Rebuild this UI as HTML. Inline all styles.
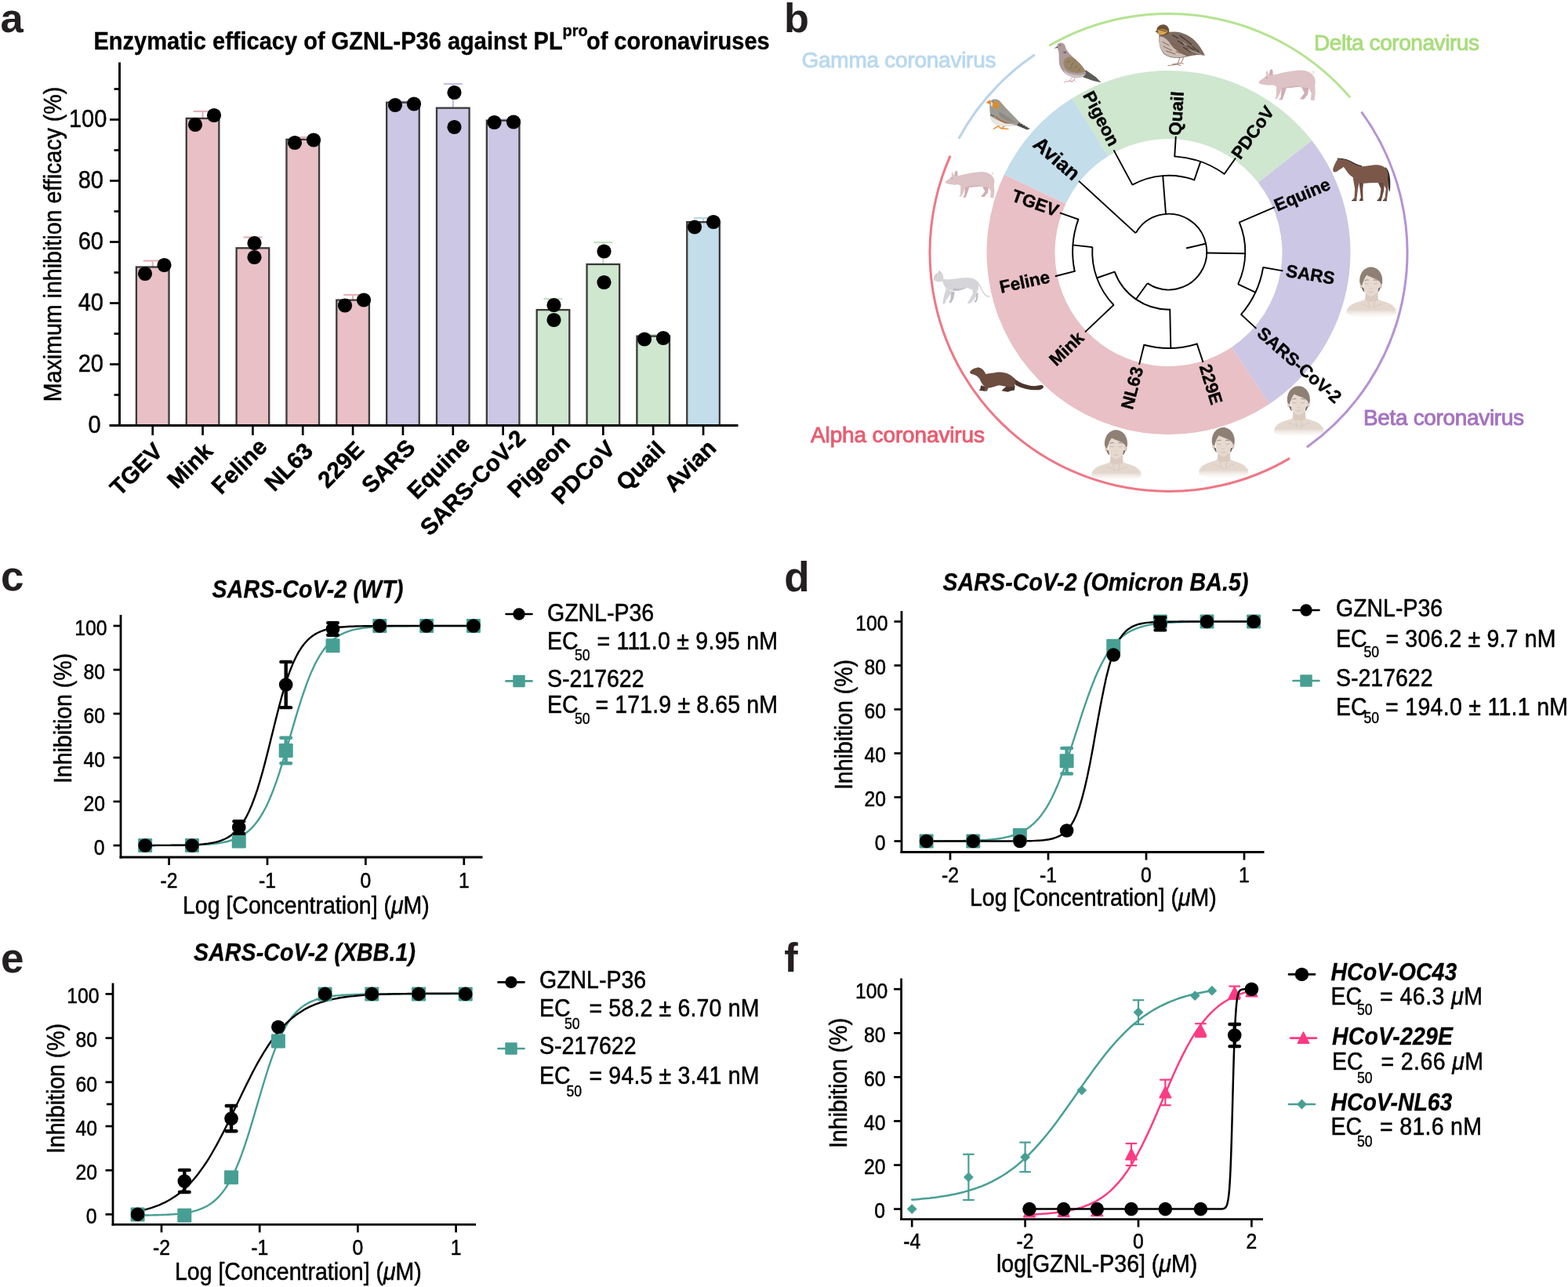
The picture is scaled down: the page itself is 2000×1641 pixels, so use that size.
<!DOCTYPE html>
<html lang="en"><head><meta charset="utf-8"><title>GZNL-P36 efficacy figure</title>
<style>
html,body{margin:0;padding:0;background:#fff;}
body{width:2000px;height:1641px;overflow:hidden;}
svg{display:block;font-family:"Liberation Sans", sans-serif;}
text{font-family:"Liberation Sans", sans-serif;}
</style></head><body>
<svg xmlns="http://www.w3.org/2000/svg" width="2000" height="1641" viewBox="0 0 2000 1641">
<rect x="0" y="0" width="2000" height="1641" fill="#ffffff"/>
<g id="panel-a">
<text x="0.50" y="41.00" font-size="52.5" font-weight="bold" fill="#231F20" >a</text>
<text transform="translate(119.5 62.5) scale(0.953 1)" x="0" y="0" font-size="30.45" font-weight="bold" stroke="#000" stroke-width="0.35">Enzymatic efficacy of GZNL-P36 against PL<tspan dy="-17" font-size="21">pro</tspan><tspan dy="17" dx="-2">of coronaviruses</tspan></text>
<line x1="194.70" y1="340.48" x2="194.70" y2="332.50" stroke="#E3B3BA" stroke-width="2.2" stroke-linecap="butt" />
<line x1="182.70" y1="332.50" x2="206.70" y2="332.50" stroke="#E3B3BA" stroke-width="2.2" stroke-linecap="butt" />
<rect x="173.90" y="340.48" width="41.60" height="202.02" fill="#E8C0C5" stroke="#3A3A3A" stroke-width="2.3" />
<circle cx="185.00" cy="349.00" r="9.1" fill="#000" />
<circle cx="209.50" cy="338.00" r="9.1" fill="#000" />
<line x1="258.55" y1="150.94" x2="258.55" y2="142.00" stroke="#E3B3BA" stroke-width="2.2" stroke-linecap="butt" />
<line x1="246.55" y1="142.00" x2="270.55" y2="142.00" stroke="#E3B3BA" stroke-width="2.2" stroke-linecap="butt" />
<rect x="237.75" y="150.94" width="41.60" height="391.56" fill="#E8C0C5" stroke="#3A3A3A" stroke-width="2.3" />
<circle cx="249.00" cy="159.00" r="9.1" fill="#000" />
<circle cx="273.00" cy="147.00" r="9.1" fill="#000" />
<line x1="322.40" y1="316.30" x2="322.40" y2="302.50" stroke="#E3B3BA" stroke-width="2.2" stroke-linecap="butt" />
<line x1="310.40" y1="302.50" x2="334.40" y2="302.50" stroke="#E3B3BA" stroke-width="2.2" stroke-linecap="butt" />
<rect x="301.60" y="316.30" width="41.60" height="226.20" fill="#E8C0C5" stroke="#3A3A3A" stroke-width="2.3" />
<circle cx="324.50" cy="310.00" r="9.1" fill="#000" />
<circle cx="324.50" cy="328.00" r="9.1" fill="#000" />
<line x1="386.25" y1="177.85" x2="386.25" y2="175.00" stroke="#E3B3BA" stroke-width="2.2" stroke-linecap="butt" />
<line x1="374.25" y1="175.00" x2="398.25" y2="175.00" stroke="#E3B3BA" stroke-width="2.2" stroke-linecap="butt" />
<rect x="365.45" y="177.85" width="41.60" height="364.65" fill="#E8C0C5" stroke="#3A3A3A" stroke-width="2.3" />
<circle cx="376.00" cy="182.00" r="9.1" fill="#000" />
<circle cx="400.00" cy="178.50" r="9.1" fill="#000" />
<line x1="450.10" y1="382.60" x2="450.10" y2="376.00" stroke="#E3B3BA" stroke-width="2.2" stroke-linecap="butt" />
<line x1="438.10" y1="376.00" x2="462.10" y2="376.00" stroke="#E3B3BA" stroke-width="2.2" stroke-linecap="butt" />
<rect x="429.30" y="382.60" width="41.60" height="159.90" fill="#E8C0C5" stroke="#3A3A3A" stroke-width="2.3" />
<circle cx="440.00" cy="389.50" r="9.1" fill="#000" />
<circle cx="464.00" cy="382.50" r="9.1" fill="#000" />
<line x1="513.95" y1="130.66" x2="513.95" y2="129.50" stroke="#C3BEE3" stroke-width="2.2" stroke-linecap="butt" />
<line x1="501.95" y1="129.50" x2="525.95" y2="129.50" stroke="#C3BEE3" stroke-width="2.2" stroke-linecap="butt" />
<rect x="493.15" y="130.66" width="41.60" height="411.84" fill="#CBC7E4" stroke="#3A3A3A" stroke-width="2.3" />
<circle cx="504.00" cy="134.00" r="9.1" fill="#000" />
<circle cx="528.00" cy="132.50" r="9.1" fill="#000" />
<line x1="577.80" y1="137.68" x2="577.80" y2="107.00" stroke="#C3BEE3" stroke-width="2.2" stroke-linecap="butt" />
<line x1="565.80" y1="107.00" x2="589.80" y2="107.00" stroke="#C3BEE3" stroke-width="2.2" stroke-linecap="butt" />
<rect x="557.00" y="137.68" width="41.60" height="404.82" fill="#CBC7E4" stroke="#3A3A3A" stroke-width="2.3" />
<circle cx="579.50" cy="118.00" r="9.1" fill="#000" />
<circle cx="579.50" cy="162.00" r="9.1" fill="#000" />
<line x1="641.65" y1="153.67" x2="641.65" y2="152.50" stroke="#C3BEE3" stroke-width="2.2" stroke-linecap="butt" />
<line x1="629.65" y1="152.50" x2="653.65" y2="152.50" stroke="#C3BEE3" stroke-width="2.2" stroke-linecap="butt" />
<rect x="620.85" y="153.67" width="41.60" height="388.83" fill="#CBC7E4" stroke="#3A3A3A" stroke-width="2.3" />
<circle cx="630.50" cy="156.00" r="9.1" fill="#000" />
<circle cx="655.00" cy="155.50" r="9.1" fill="#000" />
<line x1="705.50" y1="395.08" x2="705.50" y2="381.00" stroke="#C0E3C2" stroke-width="2.2" stroke-linecap="butt" />
<line x1="693.50" y1="381.00" x2="717.50" y2="381.00" stroke="#C0E3C2" stroke-width="2.2" stroke-linecap="butt" />
<rect x="684.70" y="395.08" width="41.60" height="147.42" fill="#CFE6CF" stroke="#3A3A3A" stroke-width="2.3" />
<circle cx="706.50" cy="389.00" r="9.1" fill="#000" />
<circle cx="706.50" cy="408.00" r="9.1" fill="#000" />
<line x1="769.35" y1="336.97" x2="769.35" y2="309.00" stroke="#C0E3C2" stroke-width="2.2" stroke-linecap="butt" />
<line x1="757.35" y1="309.00" x2="781.35" y2="309.00" stroke="#C0E3C2" stroke-width="2.2" stroke-linecap="butt" />
<rect x="748.55" y="336.97" width="41.60" height="205.53" fill="#CFE6CF" stroke="#3A3A3A" stroke-width="2.3" />
<circle cx="770.50" cy="320.50" r="9.1" fill="#000" />
<circle cx="770.50" cy="360.00" r="9.1" fill="#000" />
<line x1="833.20" y1="428.62" x2="833.20" y2="427.00" stroke="#C0E3C2" stroke-width="2.2" stroke-linecap="butt" />
<line x1="821.20" y1="427.00" x2="845.20" y2="427.00" stroke="#C0E3C2" stroke-width="2.2" stroke-linecap="butt" />
<rect x="812.40" y="428.62" width="41.60" height="113.88" fill="#CFE6CF" stroke="#3A3A3A" stroke-width="2.3" />
<circle cx="822.00" cy="432.50" r="9.1" fill="#000" />
<circle cx="846.00" cy="431.00" r="9.1" fill="#000" />
<line x1="897.05" y1="283.15" x2="897.05" y2="278.00" stroke="#B8D8EA" stroke-width="2.2" stroke-linecap="butt" />
<line x1="885.05" y1="278.00" x2="909.05" y2="278.00" stroke="#B8D8EA" stroke-width="2.2" stroke-linecap="butt" />
<rect x="876.25" y="283.15" width="41.60" height="259.35" fill="#C4DDEB" stroke="#3A3A3A" stroke-width="2.3" />
<circle cx="886.00" cy="289.50" r="9.1" fill="#000" />
<circle cx="910.00" cy="283.00" r="9.1" fill="#000" />
<line x1="152.50" y1="79.50" x2="152.50" y2="543.95" stroke="#000" stroke-width="2.9" stroke-linecap="butt" />
<line x1="139.50" y1="542.50" x2="941.50" y2="542.50" stroke="#000" stroke-width="2.9" stroke-linecap="butt" />
<line x1="140.00" y1="542.50" x2="152.50" y2="542.50" stroke="#000" stroke-width="2.7" stroke-linecap="butt" />
<text x="0.00" y="0.00" font-size="32.2" text-anchor="end" transform="translate(128.60 551.80) scale(0.9000 1)"  stroke="#000" stroke-width="0.5" stroke-linejoin="round">0</text>
<line x1="140.00" y1="464.50" x2="152.50" y2="464.50" stroke="#000" stroke-width="2.7" stroke-linecap="butt" />
<text x="0.00" y="0.00" font-size="32.2" text-anchor="end" transform="translate(132.00 473.80) scale(0.9000 1)"  stroke="#000" stroke-width="0.5" stroke-linejoin="round">20</text>
<line x1="140.00" y1="386.50" x2="152.50" y2="386.50" stroke="#000" stroke-width="2.7" stroke-linecap="butt" />
<text x="0.00" y="0.00" font-size="32.2" text-anchor="end" transform="translate(132.00 395.80) scale(0.9000 1)"  stroke="#000" stroke-width="0.5" stroke-linejoin="round">40</text>
<line x1="140.00" y1="308.50" x2="152.50" y2="308.50" stroke="#000" stroke-width="2.7" stroke-linecap="butt" />
<text x="0.00" y="0.00" font-size="32.2" text-anchor="end" transform="translate(132.00 317.80) scale(0.9000 1)"  stroke="#000" stroke-width="0.5" stroke-linejoin="round">60</text>
<line x1="140.00" y1="230.50" x2="152.50" y2="230.50" stroke="#000" stroke-width="2.7" stroke-linecap="butt" />
<text x="0.00" y="0.00" font-size="32.2" text-anchor="end" transform="translate(132.00 239.80) scale(0.9000 1)"  stroke="#000" stroke-width="0.5" stroke-linejoin="round">80</text>
<line x1="140.00" y1="152.50" x2="152.50" y2="152.50" stroke="#000" stroke-width="2.7" stroke-linecap="butt" />
<text x="0.00" y="0.00" font-size="32.2" text-anchor="end" transform="translate(136.30 161.80) scale(0.9000 1)"  stroke="#000" stroke-width="0.5" stroke-linejoin="round">100</text>
<line x1="145.50" y1="503.50" x2="152.50" y2="503.50" stroke="#000" stroke-width="2.7" stroke-linecap="butt" />
<line x1="145.50" y1="425.50" x2="152.50" y2="425.50" stroke="#000" stroke-width="2.7" stroke-linecap="butt" />
<line x1="145.50" y1="347.50" x2="152.50" y2="347.50" stroke="#000" stroke-width="2.7" stroke-linecap="butt" />
<line x1="145.50" y1="269.50" x2="152.50" y2="269.50" stroke="#000" stroke-width="2.7" stroke-linecap="butt" />
<line x1="145.50" y1="191.50" x2="152.50" y2="191.50" stroke="#000" stroke-width="2.7" stroke-linecap="butt" />
<line x1="145.50" y1="113.50" x2="152.50" y2="113.50" stroke="#000" stroke-width="2.7" stroke-linecap="butt" />
<line x1="194.70" y1="542.50" x2="194.70" y2="555.00" stroke="#000" stroke-width="2.7" stroke-linecap="butt" />
<text x="0.00" y="0.00" font-size="29.5" text-anchor="end" font-weight="bold" transform="translate(209.20 577.00) rotate(-45)"  stroke="#000" stroke-width="0.5" stroke-linejoin="round">TGEV</text>
<line x1="258.55" y1="542.50" x2="258.55" y2="555.00" stroke="#000" stroke-width="2.7" stroke-linecap="butt" />
<text x="0.00" y="0.00" font-size="29.5" text-anchor="end" font-weight="bold" transform="translate(273.05 577.00) rotate(-45)"  stroke="#000" stroke-width="0.5" stroke-linejoin="round">Mink</text>
<line x1="322.40" y1="542.50" x2="322.40" y2="555.00" stroke="#000" stroke-width="2.7" stroke-linecap="butt" />
<text x="0.00" y="0.00" font-size="29.5" text-anchor="end" font-weight="bold" transform="translate(342.40 571.50) rotate(-45)"  stroke="#000" stroke-width="0.5" stroke-linejoin="round">Feline</text>
<line x1="386.25" y1="542.50" x2="386.25" y2="555.00" stroke="#000" stroke-width="2.7" stroke-linecap="butt" />
<text x="0.00" y="0.00" font-size="29.5" text-anchor="end" font-weight="bold" transform="translate(400.75 577.00) rotate(-45)"  stroke="#000" stroke-width="0.5" stroke-linejoin="round">NL63</text>
<line x1="450.10" y1="542.50" x2="450.10" y2="555.00" stroke="#000" stroke-width="2.7" stroke-linecap="butt" />
<text x="0.00" y="0.00" font-size="29.5" text-anchor="end" font-weight="bold" transform="translate(466.10 575.00) rotate(-45)"  stroke="#000" stroke-width="0.5" stroke-linejoin="round">229E</text>
<line x1="513.95" y1="542.50" x2="513.95" y2="555.00" stroke="#000" stroke-width="2.7" stroke-linecap="butt" />
<text x="0.00" y="0.00" font-size="29.5" text-anchor="end" font-weight="bold" transform="translate(531.45 572.50) rotate(-45)"  stroke="#000" stroke-width="0.5" stroke-linejoin="round">SARS</text>
<line x1="577.80" y1="542.50" x2="577.80" y2="555.00" stroke="#000" stroke-width="2.7" stroke-linecap="butt" />
<text x="0.00" y="0.00" font-size="29.5" text-anchor="end" font-weight="bold" transform="translate(601.30 568.50) rotate(-45)"  stroke="#000" stroke-width="0.5" stroke-linejoin="round">Equine</text>
<line x1="641.65" y1="542.50" x2="641.65" y2="555.00" stroke="#000" stroke-width="2.7" stroke-linecap="butt" />
<text x="0.00" y="0.00" font-size="29.5" text-anchor="end" font-weight="bold" transform="translate(672.15 560.50) rotate(-45)"  stroke="#000" stroke-width="0.5" stroke-linejoin="round">SARS-CoV-2</text>
<line x1="705.50" y1="542.50" x2="705.50" y2="555.00" stroke="#000" stroke-width="2.7" stroke-linecap="butt" />
<text x="0.00" y="0.00" font-size="29.5" text-anchor="end" font-weight="bold" transform="translate(729.00 567.00) rotate(-45)"  stroke="#000" stroke-width="0.5" stroke-linejoin="round">Pigeon</text>
<line x1="769.35" y1="542.50" x2="769.35" y2="555.00" stroke="#000" stroke-width="2.7" stroke-linecap="butt" />
<text x="0.00" y="0.00" font-size="29.5" text-anchor="end" font-weight="bold" transform="translate(786.35 574.00) rotate(-45)"  stroke="#000" stroke-width="0.5" stroke-linejoin="round">PDCoV</text>
<line x1="833.20" y1="542.50" x2="833.20" y2="555.00" stroke="#000" stroke-width="2.7" stroke-linecap="butt" />
<text x="0.00" y="0.00" font-size="29.5" text-anchor="end" font-weight="bold" transform="translate(850.20 575.00) rotate(-45)"  stroke="#000" stroke-width="0.5" stroke-linejoin="round">Quail</text>
<line x1="897.05" y1="542.50" x2="897.05" y2="555.00" stroke="#000" stroke-width="2.7" stroke-linecap="butt" />
<text x="0.00" y="0.00" font-size="29.5" text-anchor="end" font-weight="bold" transform="translate(915.30 573.00) rotate(-45)"  stroke="#000" stroke-width="0.5" stroke-linejoin="round">Avian</text>
<text x="0.00" y="0.00" font-size="31.0" text-anchor="middle" transform="translate(78.00 311.50) rotate(-90) scale(0.9226 1)"  stroke="#000" stroke-width="0.5" stroke-linejoin="round">Maximum inhibition efficacy (%)</text>
</g>
<g id="panel-b">
<text x="1000.00" y="40.50" font-size="52.3" font-weight="bold" fill="#231F20" >b</text>
<path d="M1367.56,125.25 A232,232 0 0 1 1673.32,179.17 L1604.76,232.73 A145,145 0 0 0 1413.66,199.03 Z" fill="#CFE6CF" stroke="none" stroke-width="0" />
<path d="M1673.32,179.17 A232,232 0 0 1 1619.22,515.01 L1570.95,442.63 A145,145 0 0 0 1604.76,232.73 Z" fill="#CBC7E4" stroke="none" stroke-width="0" />
<path d="M1619.22,515.01 A232,232 0 0 1 1280.93,222.49 L1359.52,259.80 A145,145 0 0 0 1570.95,442.63 Z" fill="#E8C0C5" stroke="none" stroke-width="0" />
<path d="M1280.93,222.49 A232,232 0 0 1 1367.56,125.25 L1413.66,199.03 A145,145 0 0 0 1359.52,259.80 Z" fill="#C4DDEB" stroke="none" stroke-width="0" />
<path d="M1338.25,58.30 A304.5,304.5 0 0 1 1722.04,124.24" fill="none" stroke="#B5E391" stroke-width="3" stroke-linecap="butt"/>
<path d="M1736.53,142.59 A304.5,304.5 0 0 1 1666.89,570.21" fill="none" stroke="#B493D3" stroke-width="3" stroke-linecap="butt"/>
<path d="M1645.05,584.37 A304.5,304.5 0 0 1 1212.11,198.63" fill="none" stroke="#EE7785" stroke-width="3" stroke-linecap="butt"/>
<path d="M1222.90,176.71 A304.5,304.5 0 0 1 1319.79,69.86" fill="none" stroke="#B9D3EA" stroke-width="3" stroke-linecap="butt"/>
<path d="M1448.97,296.75 A48.4,48.4 0 1 1 1463.60,361.13" fill="none" stroke="#000" stroke-width="1.9" stroke-linecap="butt"/>
<line x1="1514.00" y1="316.25" x2="1537.70" y2="310.70" stroke="#000" stroke-width="1.9" stroke-linecap="square" />
<line x1="1376.75" y1="231.50" x2="1448.00" y2="296.75" stroke="#000" stroke-width="1.9" stroke-linecap="square" />
<line x1="1487.00" y1="272.75" x2="1483.25" y2="224.50" stroke="#000" stroke-width="1.9" stroke-linecap="square" />
<path d="M1444.37,235.59 A97.3,97.3 0 0 1 1523.28,229.38" fill="none" stroke="#000" stroke-width="1.9" stroke-linecap="butt"/>
<line x1="1444.25" y1="235.25" x2="1421.00" y2="192.20" stroke="#000" stroke-width="1.9" stroke-linecap="square" />
<line x1="1523.30" y1="229.50" x2="1530.80" y2="207.50" stroke="#000" stroke-width="1.9" stroke-linecap="square" />
<path d="M1498.25,199.33 A122.0,122.0 0 0 1 1561.65,221.78" fill="none" stroke="#000" stroke-width="1.9" stroke-linecap="butt"/>
<line x1="1498.25" y1="199.25" x2="1499.75" y2="174.80" stroke="#000" stroke-width="1.9" stroke-linecap="square" />
<line x1="1561.70" y1="221.75" x2="1575.50" y2="202.25" stroke="#000" stroke-width="1.9" stroke-linecap="square" />
<line x1="1539.50" y1="322.55" x2="1587.80" y2="323.30" stroke="#000" stroke-width="1.9" stroke-linecap="square" />
<path d="M1580.75,283.47 A97.5,97.5 0 0 1 1579.24,362.15" fill="none" stroke="#000" stroke-width="1.9" stroke-linecap="butt"/>
<line x1="1581.20" y1="283.25" x2="1625.00" y2="264.50" stroke="#000" stroke-width="1.9" stroke-linecap="square" />
<line x1="1579.70" y1="362.60" x2="1600.70" y2="372.50" stroke="#000" stroke-width="1.9" stroke-linecap="square" />
<path d="M1611.16,341.03 A122.0,122.0 0 0 1 1583.01,400.98" fill="none" stroke="#000" stroke-width="1.9" stroke-linecap="butt"/>
<line x1="1611.50" y1="341.00" x2="1635.50" y2="345.20" stroke="#000" stroke-width="1.9" stroke-linecap="square" />
<line x1="1583.30" y1="401.30" x2="1601.75" y2="418.25" stroke="#000" stroke-width="1.9" stroke-linecap="square" />
<line x1="1463.00" y1="362.00" x2="1449.50" y2="380.75" stroke="#000" stroke-width="1.9" stroke-linecap="square" />
<path d="M1492.21,394.69 A73.6,73.6 0 0 1 1421.77,346.63" fill="none" stroke="#000" stroke-width="1.9" stroke-linecap="butt"/>
<line x1="1492.25" y1="394.70" x2="1493.30" y2="443.50" stroke="#000" stroke-width="1.9" stroke-linecap="square" />
<path d="M1526.70,438.53 A122.8,122.8 0 0 1 1459.22,439.77" fill="none" stroke="#000" stroke-width="1.9" stroke-linecap="butt"/>
<line x1="1459.25" y1="440.00" x2="1453.25" y2="464.00" stroke="#000" stroke-width="1.9" stroke-linecap="square" />
<line x1="1526.75" y1="438.50" x2="1534.25" y2="461.00" stroke="#000" stroke-width="1.9" stroke-linecap="square" />
<line x1="1421.45" y1="346.70" x2="1399.70" y2="354.20" stroke="#000" stroke-width="1.9" stroke-linecap="square" />
<path d="M1420.47,388.78 A97.6,97.6 0 0 1 1393.39,314.97" fill="none" stroke="#000" stroke-width="1.9" stroke-linecap="butt"/>
<line x1="1420.25" y1="389.00" x2="1384.70" y2="422.75" stroke="#000" stroke-width="1.9" stroke-linecap="square" />
<line x1="1392.50" y1="315.00" x2="1368.80" y2="312.50" stroke="#000" stroke-width="1.9" stroke-linecap="square" />
<path d="M1370.75,345.96 A122.6,122.6 0 0 1 1375.45,279.57" fill="none" stroke="#000" stroke-width="1.9" stroke-linecap="butt"/>
<line x1="1375.25" y1="279.50" x2="1352.75" y2="271.70" stroke="#000" stroke-width="1.9" stroke-linecap="square" />
<line x1="1370.75" y1="345.80" x2="1346.75" y2="352.00" stroke="#000" stroke-width="1.9" stroke-linecap="square" />
<text transform="translate(1499.87,172.80) rotate(-86.50)" x="0" y="6.5" font-size="22.5" font-weight="bold" text-anchor="start" fill="#000" stroke="#000" stroke-width="0.4">Quail</text>
<text transform="translate(1576.66,200.62) rotate(-54.50)" x="0" y="6.5" font-size="22.5" font-weight="bold" text-anchor="start" fill="#000" stroke="#000" stroke-width="0.4">PDCoV</text>
<text transform="translate(1626.84,263.72) rotate(-22.90)" x="0" y="6.5" font-size="22.5" font-weight="bold" text-anchor="start" fill="#000" stroke="#000" stroke-width="0.4">Equine</text>
<text transform="translate(1640.43,346.03) rotate(9.50)" x="0" y="6.5" font-size="22.5" font-weight="bold" text-anchor="start" fill="#000" stroke="#000" stroke-width="0.4">SARS</text>
<text transform="translate(1606.26,422.20) rotate(41.20)" x="0" y="6.5" font-size="22.5" font-weight="bold" text-anchor="start" fill="#000" stroke="#000" stroke-width="0.4">SARS-CoV-2</text>
<text transform="translate(1535.59,465.30) rotate(72.70)" x="0" y="6.5" font-size="22.5" font-weight="bold" text-anchor="start" fill="#000" stroke="#000" stroke-width="0.4">229E</text>
<text transform="translate(1452.11,468.35) rotate(284.70)" x="0" y="6.5" font-size="22.5" font-weight="bold" text-anchor="end" fill="#000" stroke="#000" stroke-width="0.4">NL63</text>
<text transform="translate(1379.65,427.60) rotate(316.20)" x="0" y="6.5" font-size="22.5" font-weight="bold" text-anchor="end" fill="#000" stroke="#000" stroke-width="0.4">Mink</text>
<text transform="translate(1338.93,353.68) rotate(347.90)" x="0" y="6.5" font-size="22.5" font-weight="bold" text-anchor="end" fill="#000" stroke="#000" stroke-width="0.4">Feline</text>
<text transform="translate(1348.98,270.35) rotate(379.70)" x="0" y="6.5" font-size="22.5" font-weight="bold" text-anchor="end" fill="#000" stroke="#000" stroke-width="0.4">TGEV</text>
<text transform="translate(1371.84,227.24) rotate(401.00)" x="0" y="5.5" font-size="25.8" font-weight="bold" text-anchor="end" fill="#000" stroke="#000" stroke-width="0.4">Avian</text>
<text transform="translate(1418.01,186.43) rotate(422.60)" x="0" y="3.2" font-size="22.5" font-weight="bold" text-anchor="end" fill="#000" stroke="#000" stroke-width="0.4">Pigeon</text>
<g id="animals">
<g transform="translate(1330,20) scale(0.11500)">
<path d="M360,630 L480,605 L590,680 L648,742 L560,722 L450,682 Z" fill="#5C5B58" stroke="none" stroke-width="0" />
<path d="M160,335 C160,290 240,285 250,340 C255,380 300,430 360,480 C420,530 470,590 480,640 C470,680 400,700 330,680 C250,660 190,600 182,520 C178,460 185,400 165,365 Z" fill="#AE9A9C" stroke="none" stroke-width="0" />
<path d="M230,600 C280,650 380,670 470,650 C450,690 380,700 330,682 C280,668 245,640 230,600 Z" fill="#C9C2C3" stroke="none" stroke-width="0" />
<path d="M232,505 C260,450 310,440 350,475 C410,525 460,580 475,615 C430,640 350,640 290,615 C250,595 225,550 232,505 Z" fill="#9A8466" stroke="none" stroke-width="0" />
<path d="M270,520 L300,500 M310,550 L345,525 M350,585 L385,560 M300,585 L330,565 M390,610 L420,585 M345,500 L365,490" fill="none" stroke="#5E5A50" stroke-width="6" />
<path d="M228,395 L262,400 L258,420 L230,412 Z" fill="#6E6A6A" stroke="none" stroke-width="0" />
<path d="M125,362 L165,338 L170,356 Z" fill="#6A6062" stroke="none" stroke-width="0" />
<circle cx="192" cy="328" r="6" fill="#6B3A2A"/>
<path d="M325,685 L300,722 L238,736 M300,722 L330,735 M355,688 L345,715 L320,730 M345,715 L360,725" fill="none" stroke="#C58C94" stroke-width="7" stroke-linecap="round" stroke-linejoin="round"/>
</g>
<g transform="translate(1330,20) scale(0.11500)">
<path d="M1520,465 L1495,540 L1390,555 M1495,540 L1530,552 M1562,465 L1535,525 L1440,540 M1535,525 L1560,532" fill="none" stroke="#A98478" stroke-width="9" stroke-linecap="round" stroke-linejoin="round"/>
<path d="M1290,215 C1285,300 1300,380 1350,430 C1420,480 1540,475 1620,450 C1680,430 1740,435 1800,442 C1770,380 1730,320 1680,270 C1620,215 1540,180 1460,178 C1400,178 1340,190 1290,215 Z" fill="#7E6A60" stroke="none" stroke-width="0" />
<path d="M1292,230 C1288,310 1305,380 1355,425 C1420,470 1520,468 1600,448 C1520,420 1440,360 1400,290 C1370,250 1330,225 1292,230 Z" fill="#C9BCB4" stroke="none" stroke-width="0" />
<path d="M1330,290 L1400,330 M1340,340 L1430,385 M1370,390 L1470,425 M1430,300 L1520,350 M1450,350 L1560,400 M1480,400 L1600,435" fill="none" stroke="#8A5A3C" stroke-width="8" stroke-linecap="round"/>
<path d="M1440,215 L1500,250 M1520,220 L1580,265 M1590,270 L1650,320 M1500,280 L1560,320 M1600,330 L1680,380 M1660,340 L1730,400 M1560,350 L1640,400" fill="none" stroke="#3F352F" stroke-width="10" stroke-linecap="round"/>
<path d="M1620,380 L1760,432 M1560,300 L1600,330" fill="none" stroke="#D9D0C8" stroke-width="6" stroke-linecap="round"/>
<path d="M1262,170 C1262,120 1310,92 1350,100 C1390,110 1410,150 1400,190 C1385,215 1330,225 1295,212 C1275,200 1262,190 1262,170 Z" fill="#6A5038" stroke="none" stroke-width="0" />
<path d="M1268,165 C1290,140 1340,140 1385,170 C1380,200 1330,220 1298,210 C1280,200 1268,185 1268,165 Z" fill="#D9A350" stroke="none" stroke-width="0" />
<path d="M1290,155 L1370,175" fill="none" stroke="#4A3A2A" stroke-width="8" stroke-linecap="round"/>
<path d="M1245,180 L1272,162 L1282,185 Z" fill="#5A4A3C" stroke="none" stroke-width="0" />
</g>
<g transform="translate(1580,70) scale(0.12195)">
<path d="M450,330 L440,445 L418,468 L455,472 L482,400 L500,340 Z" fill="#CFAEB4" stroke="none" stroke-width="0" />
<path d="M650,325 L688,400 L650,448 L640,462 L680,466 L722,415 L735,335 Z" fill="#CFAEB4" stroke="none" stroke-width="0" />
<path d="M770,200 C795,185 790,165 775,175" fill="none" stroke="#DDC2C6" stroke-width="8" stroke-linecap="round"/>
<path d="M330,225 C400,195 520,170 640,160 C720,158 780,195 798,250 C808,300 795,335 770,345 C720,350 650,335 600,335 C540,345 470,355 410,335 C370,325 340,305 330,285 Z" fill="#DDC2C6" stroke="none" stroke-width="0" />
<path d="M395,315 L392,440 L372,455 L400,462 L432,400 L455,335 Z" fill="#DDC2C6" stroke="none" stroke-width="0" />
<path d="M715,320 L760,400 L752,470 L790,480 L802,400 L795,300 Z" fill="#DDC2C6" stroke="none" stroke-width="0" />
<path d="M210,292 C205,280 230,262 255,248 C275,225 300,195 340,192 C375,200 390,240 385,300 C360,322 320,322 270,312 C245,310 220,308 210,292 Z" fill="#DDC2C6" stroke="none" stroke-width="0" />
<path d="M322,205 C318,170 330,150 345,148 C360,160 362,195 350,215 Z" fill="#CFAEB4" stroke="none" stroke-width="0" />
<path d="M284,205 C282,185 288,170 296,166 C306,178 308,195 304,208 Z" fill="#DDC2C6" stroke="none" stroke-width="0" />
<path d="M470,350 C540,345 600,336 650,335 C600,320 520,325 470,350 Z" fill="#CFAEB4" stroke="none" stroke-width="0" />
<circle cx="293" cy="240" r="5" fill="#5E7FA0"/>
</g>
<g transform="translate(1580,70) scale(0.12195)">
<path d="M1530,1172 C1565,1190 1582,1250 1585,1320 C1586,1380 1584,1420 1578,1432 C1565,1400 1558,1330 1550,1250 Z" fill="#2B2522" stroke="none" stroke-width="0" />
<path d="M1255,1320 L1268,1400 L1278,1490 L1262,1525 L1300,1522 L1298,1400 L1305,1330 Z" fill="#6A483D" stroke="none" stroke-width="0" />
<path d="M1450,1320 L1488,1400 L1478,1480 L1448,1525 L1490,1526 L1518,1420 L1525,1330 Z" fill="#6A483D" stroke="none" stroke-width="0" />
<path d="M1180,1190 C1250,1165 1340,1165 1420,1150 C1480,1145 1530,1165 1552,1205 C1568,1250 1565,1300 1540,1335 C1480,1340 1400,1330 1320,1342 C1260,1345 1210,1310 1180,1260 Z" fill="#7B574A" stroke="none" stroke-width="0" />
<path d="M1045,1090 C1090,1085 1140,1100 1200,1130 C1240,1150 1270,1160 1290,1165 C1280,1220 1240,1270 1190,1275 C1160,1260 1130,1220 1105,1180 C1085,1160 1060,1150 1050,1130 Z" fill="#7B574A" stroke="none" stroke-width="0" />
<path d="M985,1200 C990,1170 1010,1130 1025,1105 C1035,1085 1055,1085 1075,1095 C1095,1110 1105,1140 1100,1165 C1085,1185 1060,1195 1040,1210 C1025,1225 1000,1230 990,1222 Z" fill="#7B574A" stroke="none" stroke-width="0" />
<path d="M1030,1095 L1036,1075 L1050,1092 Z" fill="#7B574A" stroke="none" stroke-width="0" />
<path d="M1195,1285 L1215,1400 L1210,1490 L1183,1526 L1232,1526 L1246,1400 L1262,1320 Z" fill="#7B574A" stroke="none" stroke-width="0" />
<path d="M1500,1320 L1540,1400 L1530,1490 L1508,1526 L1548,1526 L1562,1420 L1562,1300 Z" fill="#7B574A" stroke="none" stroke-width="0" />
<path d="M1183,1516 L1232,1516 L1232,1528 L1183,1528 Z M1262,1514 L1300,1514 L1300,1526 L1262,1526 Z M1448,1516 L1490,1516 L1490,1528 L1448,1528 Z M1508,1516 L1548,1516 L1548,1528 L1508,1528 Z" fill="#3A2C26" stroke="none" stroke-width="0" />
<path d="M1040,1085 C1100,1080 1160,1105 1210,1135 C1240,1150 1265,1158 1285,1163" fill="none" stroke="#2B2522" stroke-width="9" stroke-linecap="round"/>
</g>
<g transform="translate(1180,110) scale(0.09750)">
<path d="M965,515 L900,556 M965,530 L1000,555 M1040,520 L1000,550 L1085,560" fill="none" stroke="#F2933E" stroke-width="16" stroke-linecap="round" stroke-linejoin="round"/>
<path d="M1200,450 L1372,555 L1335,570 L1190,508 Z" fill="#4A4944" stroke="none" stroke-width="0" />
<path d="M1245,492 L1262,470 M1280,512 L1298,490 M1312,530 L1330,508 M1340,548 L1355,530" fill="none" stroke="#ECECE6" stroke-width="10" />
<path d="M848,215 C845,170 930,150 980,195 C1020,245 1090,320 1170,400 L1235,470 L1200,512 C1120,515 1010,525 945,505 C880,485 850,430 853,360 C838,310 845,255 848,215 Z" fill="#9C9A92" stroke="none" stroke-width="0" />
<path d="M858,390 C900,425 960,452 1050,482 L1195,505 C1110,522 1005,526 945,505 C885,485 855,435 858,390 Z" fill="#E9E7E1" stroke="none" stroke-width="0" />
<path d="M925,385 C960,425 1020,462 1125,485 L1055,487 C1000,472 950,442 922,405 Z" fill="#B06F48" stroke="none" stroke-width="0" />
<path d="M960,330 C1030,360 1110,420 1190,480 C1120,470 1030,440 975,390 Z" fill="#8C8A83" stroke="none" stroke-width="0" />
<path d="M855,372 L905,392" fill="none" stroke="#3C3B38" stroke-width="9" stroke-linecap="round"/>
<rect x="864" y="205" width="16" height="55" fill="#F3F2EE"/>
<ellipse cx="928" cy="245" rx="43" ry="44" fill="#E18B2A"/>
<circle cx="885" cy="205" r="6" fill="#6A2830"/>
<path d="M795,212 L850,178 L862,240 Z" fill="#F08A2A" stroke="none" stroke-width="0" />
</g>
<g transform="translate(1183.5898305084745,201.96440677966103) scale(0.10576)">
<path d="M450,330 L440,445 L418,468 L455,472 L482,400 L500,340 Z" fill="#CFAEB4" stroke="none" stroke-width="0" />
<path d="M650,325 L688,400 L650,448 L640,462 L680,466 L722,415 L735,335 Z" fill="#CFAEB4" stroke="none" stroke-width="0" />
<path d="M770,200 C795,185 790,165 775,175" fill="none" stroke="#DDC2C6" stroke-width="8" stroke-linecap="round"/>
<path d="M330,225 C400,195 520,170 640,160 C720,158 780,195 798,250 C808,300 795,335 770,345 C720,350 650,335 600,335 C540,345 470,355 410,335 C370,325 340,305 330,285 Z" fill="#DDC2C6" stroke="none" stroke-width="0" />
<path d="M395,315 L392,440 L372,455 L400,462 L432,400 L455,335 Z" fill="#DDC2C6" stroke="none" stroke-width="0" />
<path d="M715,320 L760,400 L752,470 L790,480 L802,400 L795,300 Z" fill="#DDC2C6" stroke="none" stroke-width="0" />
<path d="M210,292 C205,280 230,262 255,248 C275,225 300,195 340,192 C375,200 390,240 385,300 C360,322 320,322 270,312 C245,310 220,308 210,292 Z" fill="#DDC2C6" stroke="none" stroke-width="0" />
<path d="M322,205 C318,170 330,150 345,148 C360,160 362,195 350,215 Z" fill="#CFAEB4" stroke="none" stroke-width="0" />
<path d="M284,205 C282,185 288,170 296,166 C306,178 308,195 304,208 Z" fill="#DDC2C6" stroke="none" stroke-width="0" />
<path d="M470,350 C540,345 600,336 650,335 C600,320 520,325 470,350 Z" fill="#CFAEB4" stroke="none" stroke-width="0" />
<circle cx="293" cy="240" r="5" fill="#5E7FA0"/>
</g>
<g transform="translate(1180,330) scale(0.10965)">
<path d="M600,262 C640,300 650,360 690,410 C710,435 735,438 748,435" fill="none" stroke="#D5D5D9" stroke-width="15" stroke-linecap="round"/>
<path d="M300,375 L298,460 L278,508 L300,516 L330,462 L345,390 Z" fill="#BDBDC3" stroke="none" stroke-width="0" />
<path d="M585,395 L592,470 L568,500 L590,508 L612,470 L618,400 Z" fill="#BDBDC3" stroke="none" stroke-width="0" />
<path d="M195,235 C260,245 330,235 400,225 C460,215 530,215 575,235 C615,260 630,310 615,360 C590,380 540,360 490,335 C440,360 380,375 320,370 C270,360 230,340 215,300 Z" fill="#D5D5D9" stroke="none" stroke-width="0" />
<path d="M245,340 L215,450 L203,518 L226,526 L252,470 L312,390 Z" fill="#D5D5D9" stroke="none" stroke-width="0" />
<path d="M535,300 L558,400 L520,470 L488,514 L520,522 L572,470 L602,400 L625,310 Z" fill="#D5D5D9" stroke="none" stroke-width="0" />
<path d="M95,228 C100,200 120,170 150,160 L165,130 L190,165 C215,185 220,225 205,255 C180,275 140,270 115,255 C100,250 95,240 95,228 Z" fill="#D5D5D9" stroke="none" stroke-width="0" />
<path d="M168,140 L186,168 L172,172 Z" fill="#D9A8B0" stroke="none" stroke-width="0" />
<circle cx="128" cy="200" r="5" fill="#A89A40"/>
<path d="M320,370 C380,378 440,362 490,336 C440,350 380,352 330,345 Z" fill="#BDBDC3" stroke="none" stroke-width="0" />
</g>
<g transform="translate(1180,330) scale(0.10965)">
<path d="M1030,1385 C1090,1440 1180,1478 1270,1480 C1320,1478 1355,1458 1375,1478 C1385,1500 1360,1522 1320,1525 C1240,1532 1130,1510 1050,1465 Z" fill="#4B352D" stroke="none" stroke-width="0" />
<path d="M650,1470 L640,1518 L622,1530 L700,1540 L722,1495 Z" fill="#4B352D" stroke="none" stroke-width="0" />
<path d="M960,1470 L905,1518 L890,1535 L962,1548 L1000,1535 L1040,1528 L1045,1470 Z" fill="#4B352D" stroke="none" stroke-width="0" />
<path d="M700,1480 L690,1520 L672,1535 L720,1540 L735,1500 Z" fill="#6C4D40" stroke="none" stroke-width="0" />
<path d="M520,1315 C540,1285 580,1265 620,1265 C660,1268 690,1300 705,1340 C760,1330 820,1318 870,1318 C940,1318 1000,1350 1045,1395 C1060,1430 1050,1470 1020,1490 C960,1500 900,1470 860,1470 C820,1478 780,1500 740,1502 C690,1500 660,1460 640,1410 C625,1375 590,1350 555,1342 C535,1340 520,1330 520,1315 Z" fill="#6C4D40" stroke="none" stroke-width="0" />
<circle cx="565" cy="1300" r="5" fill="#2A1C18"/>
<path d="M610,1268 C625,1262 640,1270 640,1285" fill="none" stroke="#4B352D" stroke-width="6" stroke-linecap="round"/>
</g>
<g transform="translate(1423.2,567.6)">
<defs><linearGradient id="hg1" gradientUnits="userSpaceOnUse" x1="0" y1="22" x2="0" y2="45.5"><stop offset="0" stop-color="#E5D8CE"/><stop offset="0.55" stop-color="#E3D6CC"/><stop offset="1" stop-color="#F4EEEA" stop-opacity="0"/></linearGradient></defs>
<path d="M-30.9,39 C-30,32 -25,28 -17,25.5 C-12,24 -9,23 -7.2,21.9 L9.3,21.9 C11,23 14,24 19,25.5 C27,28 32,33 32.5,39 C30,48 -28,48 -30.9,39 Z" fill="url(#hg1)" stroke="none" stroke-width="0" />
<path d="M-30.6,36.5 C-29.5,31.5 -25,28 -17,25.5 C-12,24 -9,23 -7.2,21.9 M9.3,21.9 C11,23 14,24 19,25.5 C27,28 31.5,32 32.2,36.5" fill="none" stroke="#D2BFB3" stroke-width="0.5" stroke-opacity="0.8"/>
<path d="M-6.6,13 L8.9,13 L9.4,22 C6,25.5 -4,25.5 -7.3,22 Z" fill="#DACABF" stroke="none" stroke-width="0" />
<ellipse cx="-11.9" cy="4.2" rx="1.9" ry="3.6" fill="#DCCBC0"/>
<ellipse cx="12.7" cy="4.2" rx="1.9" ry="3.6" fill="#DCCBC0"/>
<path d="M-11.6,6.3 C-11.2,9 -10,11.3 -8.2,12.6 L-9,7 Z" fill="#74675C" stroke="none" stroke-width="0" />
<path d="M12.2,6.3 C11.8,9 10.6,11.3 8.8,12.6 L9.5,7 Z" fill="#74675C" stroke="none" stroke-width="0" />
<path d="M-9.3,-1.6 C-9.4,3 -9.1,7 -8.3,10.4 C-7,14 -4.5,16.6 0.3,18 C4.9,16.6 8,13.5 8.9,10.4 C10,7 10.9,3 11.9,0.4 C10,-4 5,-7 1.8,-8 C-1,-9 -4,-10 -5.2,-10 C-7.5,-8 -9,-5 -9.3,-1.6 Z" fill="#E6D9D0" stroke="none" stroke-width="0" />
<path d="M-13.9,1.2 C-15.6,-10 -9,-19.4 0.3,-19.4 C9.6,-19.4 16.2,-10 14.7,1.2 L13.4,3 C12.8,1.5 12.3,0.8 11.6,-0.2 C9.5,-3.2 5,-5 1.8,-6.1 C-1,-7.2 -3.5,-8.4 -5.2,-9.2 C-7,-7 -8.6,-4.2 -9.3,-1.4 C-9.8,0.5 -10.5,2 -11,3.4 L-12.8,3.2 Z" fill="#8E8074" stroke="none" stroke-width="0" />
<path d="M-7.4,-2.4 C-6,-3.3 -4.5,-3.3 -3,-2.9 M3.4,-2.9 C5,-3.3 6.5,-3.3 8,-2.4" fill="none" stroke="#8E8074" stroke-width="0.9" stroke-linecap="round"/>
<path d="M-7.2,1.4 C-5.8,2.5 -4.2,2.5 -3,1.8 M3.8,1.8 C5,2.5 6.6,2.5 8,1.4" fill="none" stroke="#B8A698" stroke-width="0.7" stroke-linecap="round"/>
<path d="M-2,7.6 C-1,8.4 1.4,8.4 2.4,7.6" fill="none" stroke="#D2C0B4" stroke-width="0.7" />
<path d="M-2.6,12 C-1,12.8 1.6,12.8 3.2,12" fill="none" stroke="#D0BCB0" stroke-width="1.0" />
<path d="M-13,27.5 C-9,28.5 -5,29.5 -1.4,32.5 M15,27.5 C11,28.5 7,29.5 3.4,32.5 M-3.6,24.5 L-1,33 M5,24.5 L3,33" fill="none" stroke="#D0BEB2" stroke-width="0.6" />
</g>
<g transform="translate(1560,564.4)">
<defs><linearGradient id="hg2" gradientUnits="userSpaceOnUse" x1="0" y1="22" x2="0" y2="45.5"><stop offset="0" stop-color="#E5D8CE"/><stop offset="0.55" stop-color="#E3D6CC"/><stop offset="1" stop-color="#F4EEEA" stop-opacity="0"/></linearGradient></defs>
<path d="M-30.9,39 C-30,32 -25,28 -17,25.5 C-12,24 -9,23 -7.2,21.9 L9.3,21.9 C11,23 14,24 19,25.5 C27,28 32,33 32.5,39 C30,48 -28,48 -30.9,39 Z" fill="url(#hg2)" stroke="none" stroke-width="0" />
<path d="M-30.6,36.5 C-29.5,31.5 -25,28 -17,25.5 C-12,24 -9,23 -7.2,21.9 M9.3,21.9 C11,23 14,24 19,25.5 C27,28 31.5,32 32.2,36.5" fill="none" stroke="#D2BFB3" stroke-width="0.5" stroke-opacity="0.8"/>
<path d="M-6.6,13 L8.9,13 L9.4,22 C6,25.5 -4,25.5 -7.3,22 Z" fill="#DACABF" stroke="none" stroke-width="0" />
<ellipse cx="-11.9" cy="4.2" rx="1.9" ry="3.6" fill="#DCCBC0"/>
<ellipse cx="12.7" cy="4.2" rx="1.9" ry="3.6" fill="#DCCBC0"/>
<path d="M-11.6,6.3 C-11.2,9 -10,11.3 -8.2,12.6 L-9,7 Z" fill="#74675C" stroke="none" stroke-width="0" />
<path d="M12.2,6.3 C11.8,9 10.6,11.3 8.8,12.6 L9.5,7 Z" fill="#74675C" stroke="none" stroke-width="0" />
<path d="M-9.3,-1.6 C-9.4,3 -9.1,7 -8.3,10.4 C-7,14 -4.5,16.6 0.3,18 C4.9,16.6 8,13.5 8.9,10.4 C10,7 10.9,3 11.9,0.4 C10,-4 5,-7 1.8,-8 C-1,-9 -4,-10 -5.2,-10 C-7.5,-8 -9,-5 -9.3,-1.6 Z" fill="#E6D9D0" stroke="none" stroke-width="0" />
<path d="M-13.9,1.2 C-15.6,-10 -9,-19.4 0.3,-19.4 C9.6,-19.4 16.2,-10 14.7,1.2 L13.4,3 C12.8,1.5 12.3,0.8 11.6,-0.2 C9.5,-3.2 5,-5 1.8,-6.1 C-1,-7.2 -3.5,-8.4 -5.2,-9.2 C-7,-7 -8.6,-4.2 -9.3,-1.4 C-9.8,0.5 -10.5,2 -11,3.4 L-12.8,3.2 Z" fill="#8E8074" stroke="none" stroke-width="0" />
<path d="M-7.4,-2.4 C-6,-3.3 -4.5,-3.3 -3,-2.9 M3.4,-2.9 C5,-3.3 6.5,-3.3 8,-2.4" fill="none" stroke="#8E8074" stroke-width="0.9" stroke-linecap="round"/>
<path d="M-7.2,1.4 C-5.8,2.5 -4.2,2.5 -3,1.8 M3.8,1.8 C5,2.5 6.6,2.5 8,1.4" fill="none" stroke="#B8A698" stroke-width="0.7" stroke-linecap="round"/>
<path d="M-2,7.6 C-1,8.4 1.4,8.4 2.4,7.6" fill="none" stroke="#D2C0B4" stroke-width="0.7" />
<path d="M-2.6,12 C-1,12.8 1.6,12.8 3.2,12" fill="none" stroke="#D0BCB0" stroke-width="1.0" />
<path d="M-13,27.5 C-9,28.5 -5,29.5 -1.4,32.5 M15,27.5 C11,28.5 7,29.5 3.4,32.5 M-3.6,24.5 L-1,33 M5,24.5 L3,33" fill="none" stroke="#D0BEB2" stroke-width="0.6" />
</g>
<g transform="translate(1656,511.6)">
<defs><linearGradient id="hg3" gradientUnits="userSpaceOnUse" x1="0" y1="22" x2="0" y2="45.5"><stop offset="0" stop-color="#E5D8CE"/><stop offset="0.55" stop-color="#E3D6CC"/><stop offset="1" stop-color="#F4EEEA" stop-opacity="0"/></linearGradient></defs>
<path d="M-30.9,39 C-30,32 -25,28 -17,25.5 C-12,24 -9,23 -7.2,21.9 L9.3,21.9 C11,23 14,24 19,25.5 C27,28 32,33 32.5,39 C30,48 -28,48 -30.9,39 Z" fill="url(#hg3)" stroke="none" stroke-width="0" />
<path d="M-30.6,36.5 C-29.5,31.5 -25,28 -17,25.5 C-12,24 -9,23 -7.2,21.9 M9.3,21.9 C11,23 14,24 19,25.5 C27,28 31.5,32 32.2,36.5" fill="none" stroke="#D2BFB3" stroke-width="0.5" stroke-opacity="0.8"/>
<path d="M-6.6,13 L8.9,13 L9.4,22 C6,25.5 -4,25.5 -7.3,22 Z" fill="#DACABF" stroke="none" stroke-width="0" />
<ellipse cx="-11.9" cy="4.2" rx="1.9" ry="3.6" fill="#DCCBC0"/>
<ellipse cx="12.7" cy="4.2" rx="1.9" ry="3.6" fill="#DCCBC0"/>
<path d="M-11.6,6.3 C-11.2,9 -10,11.3 -8.2,12.6 L-9,7 Z" fill="#74675C" stroke="none" stroke-width="0" />
<path d="M12.2,6.3 C11.8,9 10.6,11.3 8.8,12.6 L9.5,7 Z" fill="#74675C" stroke="none" stroke-width="0" />
<path d="M-9.3,-1.6 C-9.4,3 -9.1,7 -8.3,10.4 C-7,14 -4.5,16.6 0.3,18 C4.9,16.6 8,13.5 8.9,10.4 C10,7 10.9,3 11.9,0.4 C10,-4 5,-7 1.8,-8 C-1,-9 -4,-10 -5.2,-10 C-7.5,-8 -9,-5 -9.3,-1.6 Z" fill="#E6D9D0" stroke="none" stroke-width="0" />
<path d="M-13.9,1.2 C-15.6,-10 -9,-19.4 0.3,-19.4 C9.6,-19.4 16.2,-10 14.7,1.2 L13.4,3 C12.8,1.5 12.3,0.8 11.6,-0.2 C9.5,-3.2 5,-5 1.8,-6.1 C-1,-7.2 -3.5,-8.4 -5.2,-9.2 C-7,-7 -8.6,-4.2 -9.3,-1.4 C-9.8,0.5 -10.5,2 -11,3.4 L-12.8,3.2 Z" fill="#8E8074" stroke="none" stroke-width="0" />
<path d="M-7.4,-2.4 C-6,-3.3 -4.5,-3.3 -3,-2.9 M3.4,-2.9 C5,-3.3 6.5,-3.3 8,-2.4" fill="none" stroke="#8E8074" stroke-width="0.9" stroke-linecap="round"/>
<path d="M-7.2,1.4 C-5.8,2.5 -4.2,2.5 -3,1.8 M3.8,1.8 C5,2.5 6.6,2.5 8,1.4" fill="none" stroke="#B8A698" stroke-width="0.7" stroke-linecap="round"/>
<path d="M-2,7.6 C-1,8.4 1.4,8.4 2.4,7.6" fill="none" stroke="#D2C0B4" stroke-width="0.7" />
<path d="M-2.6,12 C-1,12.8 1.6,12.8 3.2,12" fill="none" stroke="#D0BCB0" stroke-width="1.0" />
<path d="M-13,27.5 C-9,28.5 -5,29.5 -1.4,32.5 M15,27.5 C11,28.5 7,29.5 3.4,32.5 M-3.6,24.5 L-1,33 M5,24.5 L3,33" fill="none" stroke="#D0BEB2" stroke-width="0.6" />
</g>
<g transform="translate(1748.5,360)">
<defs><linearGradient id="hg4" gradientUnits="userSpaceOnUse" x1="0" y1="22" x2="0" y2="45.5"><stop offset="0" stop-color="#E5D8CE"/><stop offset="0.55" stop-color="#E3D6CC"/><stop offset="1" stop-color="#F4EEEA" stop-opacity="0"/></linearGradient></defs>
<path d="M-30.9,39 C-30,32 -25,28 -17,25.5 C-12,24 -9,23 -7.2,21.9 L9.3,21.9 C11,23 14,24 19,25.5 C27,28 32,33 32.5,39 C30,48 -28,48 -30.9,39 Z" fill="url(#hg4)" stroke="none" stroke-width="0" />
<path d="M-30.6,36.5 C-29.5,31.5 -25,28 -17,25.5 C-12,24 -9,23 -7.2,21.9 M9.3,21.9 C11,23 14,24 19,25.5 C27,28 31.5,32 32.2,36.5" fill="none" stroke="#D2BFB3" stroke-width="0.5" stroke-opacity="0.8"/>
<path d="M-6.6,13 L8.9,13 L9.4,22 C6,25.5 -4,25.5 -7.3,22 Z" fill="#DACABF" stroke="none" stroke-width="0" />
<ellipse cx="-11.9" cy="4.2" rx="1.9" ry="3.6" fill="#DCCBC0"/>
<ellipse cx="12.7" cy="4.2" rx="1.9" ry="3.6" fill="#DCCBC0"/>
<path d="M-11.6,6.3 C-11.2,9 -10,11.3 -8.2,12.6 L-9,7 Z" fill="#74675C" stroke="none" stroke-width="0" />
<path d="M12.2,6.3 C11.8,9 10.6,11.3 8.8,12.6 L9.5,7 Z" fill="#74675C" stroke="none" stroke-width="0" />
<path d="M-9.3,-1.6 C-9.4,3 -9.1,7 -8.3,10.4 C-7,14 -4.5,16.6 0.3,18 C4.9,16.6 8,13.5 8.9,10.4 C10,7 10.9,3 11.9,0.4 C10,-4 5,-7 1.8,-8 C-1,-9 -4,-10 -5.2,-10 C-7.5,-8 -9,-5 -9.3,-1.6 Z" fill="#E6D9D0" stroke="none" stroke-width="0" />
<path d="M-13.9,1.2 C-15.6,-10 -9,-19.4 0.3,-19.4 C9.6,-19.4 16.2,-10 14.7,1.2 L13.4,3 C12.8,1.5 12.3,0.8 11.6,-0.2 C9.5,-3.2 5,-5 1.8,-6.1 C-1,-7.2 -3.5,-8.4 -5.2,-9.2 C-7,-7 -8.6,-4.2 -9.3,-1.4 C-9.8,0.5 -10.5,2 -11,3.4 L-12.8,3.2 Z" fill="#8E8074" stroke="none" stroke-width="0" />
<path d="M-7.4,-2.4 C-6,-3.3 -4.5,-3.3 -3,-2.9 M3.4,-2.9 C5,-3.3 6.5,-3.3 8,-2.4" fill="none" stroke="#8E8074" stroke-width="0.9" stroke-linecap="round"/>
<path d="M-7.2,1.4 C-5.8,2.5 -4.2,2.5 -3,1.8 M3.8,1.8 C5,2.5 6.6,2.5 8,1.4" fill="none" stroke="#B8A698" stroke-width="0.7" stroke-linecap="round"/>
<path d="M-2,7.6 C-1,8.4 1.4,8.4 2.4,7.6" fill="none" stroke="#D2C0B4" stroke-width="0.7" />
<path d="M-2.6,12 C-1,12.8 1.6,12.8 3.2,12" fill="none" stroke="#D0BCB0" stroke-width="1.0" />
<path d="M-13,27.5 C-9,28.5 -5,29.5 -1.4,32.5 M15,27.5 C11,28.5 7,29.5 3.4,32.5 M-3.6,24.5 L-1,33 M5,24.5 L3,33" fill="none" stroke="#D0BEB2" stroke-width="0.6" />
</g>
</g>
<text x="1022.5" y="85.5" font-size="28" fill="#B9D8EF" stroke="#B9D8EF" stroke-width="0.9" textLength="248" lengthAdjust="spacing">Gamma coronavirus</text>
<text x="1676" y="63.5" font-size="28" fill="#A9DC7C" stroke="#A9DC7C" stroke-width="0.9" textLength="211" lengthAdjust="spacing">Delta coronavirus</text>
<text x="1034" y="563.5" font-size="28" fill="#E95C70" stroke="#E95C70" stroke-width="0.9" textLength="222" lengthAdjust="spacing">Alpha coronavirus</text>
<text x="1739" y="542" font-size="28" fill="#A473C0" stroke="#A473C0" stroke-width="0.9" textLength="205" lengthAdjust="spacing">Beta coronavirus</text>
</g>
<g id="panel-c">
<text x="1.00" y="753.30" font-size="53" font-weight="bold" fill="#231F20" >c</text>
<text x="0.00" y="0.00" font-size="31.9" font-weight="bold" font-style="italic" transform="translate(270.50 762.40) scale(0.8930 1)" textLength="273.24" lengthAdjust="spacing" stroke="#000" stroke-width="0.3">SARS-CoV-2 (WT)</text>
<path d="M185.1,1078.0 L188.6,1078.0 L192.1,1078.0 L195.6,1078.0 L199.1,1077.9 L202.6,1077.9 L206.1,1077.9 L209.6,1077.9 L213.1,1077.9 L216.5,1077.9 L220.0,1077.8 L223.5,1077.8 L227.0,1077.8 L230.5,1077.7 L234.0,1077.7 L237.5,1077.6 L241.0,1077.5 L244.5,1077.5 L248.0,1077.4 L251.4,1077.2 L254.9,1077.1 L258.4,1076.9 L261.9,1076.7 L265.4,1076.5 L268.9,1076.2 L272.4,1075.9 L275.9,1075.5 L279.4,1075.0 L282.9,1074.4 L286.3,1073.7 L289.8,1073.0 L293.3,1072.0 L296.8,1070.9 L300.3,1069.6 L303.8,1068.1 L307.3,1066.3 L310.8,1064.2 L314.3,1061.7 L317.8,1058.9 L321.2,1055.6 L324.7,1051.7 L328.2,1047.3 L331.7,1042.2 L335.2,1036.5 L338.7,1030.0 L342.2,1022.7 L345.7,1014.6 L349.2,1005.7 L352.7,996.1 L356.2,985.7 L359.6,974.7 L363.1,963.2 L366.6,951.3 L370.1,939.2 L373.6,927.1 L377.1,915.2 L380.6,903.6 L384.1,892.5 L387.6,882.0 L391.1,872.2 L394.5,863.1 L398.0,854.9 L401.5,847.4 L405.0,840.8 L408.5,834.9 L412.0,829.7 L415.5,825.1 L419.0,821.2 L422.5,817.8 L426.0,814.8 L429.4,812.3 L432.9,810.1 L436.4,808.3 L439.9,806.7 L443.4,805.3 L446.9,804.2 L450.4,803.2 L453.9,802.4 L457.4,801.7 L460.9,801.1 L464.4,800.6 L467.8,800.2 L471.3,799.9 L474.8,799.6 L478.3,799.3 L481.8,799.1 L485.3,798.9 L488.8,798.8 L492.3,798.7 L495.8,798.6 L499.3,798.5 L502.7,798.4 L506.2,798.3 L509.7,798.3 L513.2,798.2 L516.7,798.2 L520.2,798.2 L523.7,798.1 L527.2,798.1 L530.7,798.1 L534.2,798.1 L537.6,798.1 L541.1,798.1 L544.6,798.0 L548.1,798.0 L551.6,798.0 L555.1,798.0 L558.6,798.0 L562.1,798.0 L565.6,798.0 L569.1,798.0 L572.6,798.0 L576.0,798.0 L579.5,798.0 L583.0,798.0 L586.5,798.0 L590.0,798.0 L593.5,798.0 L597.0,798.0 L600.5,798.0 L604.0,798.0" fill="none" stroke="#479F94" stroke-width="2.4" stroke-linejoin="round" stroke-linecap="round"/>
<path d="M185.1,1078.0 L188.6,1078.0 L192.1,1078.0 L195.6,1078.0 L199.1,1077.9 L202.6,1077.9 L206.1,1077.9 L209.6,1077.9 L213.1,1077.9 L216.5,1077.9 L220.0,1077.8 L223.5,1077.8 L227.0,1077.7 L230.5,1077.7 L234.0,1077.6 L237.5,1077.5 L241.0,1077.4 L244.5,1077.3 L248.0,1077.1 L251.4,1076.9 L254.9,1076.7 L258.4,1076.4 L261.9,1076.0 L265.4,1075.6 L268.9,1075.0 L272.4,1074.4 L275.9,1073.6 L279.4,1072.6 L282.9,1071.4 L286.3,1070.0 L289.8,1068.2 L293.3,1066.1 L296.8,1063.5 L300.3,1060.5 L303.8,1056.8 L307.3,1052.4 L310.8,1047.3 L314.3,1041.3 L317.8,1034.3 L321.2,1026.2 L324.7,1017.0 L328.2,1006.8 L331.7,995.4 L335.2,983.1 L338.7,969.9 L342.2,956.1 L345.7,941.9 L349.2,927.7 L352.7,913.6 L356.2,900.1 L359.6,887.3 L363.1,875.4 L366.6,864.5 L370.1,854.7 L373.6,846.1 L377.1,838.5 L380.6,831.9 L384.1,826.3 L387.6,821.5 L391.1,817.5 L394.5,814.1 L398.0,811.3 L401.5,808.9 L405.0,807.0 L408.5,805.4 L412.0,804.0 L415.5,802.9 L419.0,802.0 L422.5,801.3 L426.0,800.7 L429.4,800.2 L432.9,799.8 L436.4,799.5 L439.9,799.2 L443.4,799.0 L446.9,798.8 L450.4,798.7 L453.9,798.5 L457.4,798.4 L460.9,798.4 L464.4,798.3 L467.8,798.2 L471.3,798.2 L474.8,798.2 L478.3,798.1 L481.8,798.1 L485.3,798.1 L488.8,798.1 L492.3,798.1 L495.8,798.0 L499.3,798.0 L502.7,798.0 L506.2,798.0 L509.7,798.0 L513.2,798.0 L516.7,798.0 L520.2,798.0 L523.7,798.0 L527.2,798.0 L530.7,798.0 L534.2,798.0 L537.6,798.0 L541.1,798.0 L544.6,798.0 L548.1,798.0 L551.6,798.0 L555.1,798.0 L558.6,798.0 L562.1,798.0 L565.6,798.0 L569.1,798.0 L572.6,798.0 L576.0,798.0 L579.5,798.0 L583.0,798.0 L586.5,798.0 L590.0,798.0 L593.5,798.0 L597.0,798.0 L600.5,798.0 L604.0,798.0" fill="none" stroke="#000" stroke-width="2.4" stroke-linejoin="round" stroke-linecap="round"/>
<rect x="176.13" y="1069.00" width="18.00" height="18.00" fill="#479F94" stroke="none" stroke-width="0" rx="1.2"/>
<rect x="235.94" y="1069.00" width="18.00" height="18.00" fill="#479F94" stroke="none" stroke-width="0" rx="1.2"/>
<rect x="295.76" y="1063.40" width="18.00" height="18.00" fill="#479F94" stroke="none" stroke-width="0" rx="1.2"/>
<line x1="364.70" y1="973.28" x2="364.70" y2="940.80" stroke="#479F94" stroke-width="4.4" stroke-linecap="butt" />
<line x1="358.40" y1="973.28" x2="371.00" y2="973.28" stroke="#479F94" stroke-width="4.4" stroke-linecap="round" />
<line x1="358.40" y1="940.80" x2="371.00" y2="940.80" stroke="#479F94" stroke-width="4.4" stroke-linecap="round" />
<rect x="355.70" y="948.04" width="18.00" height="18.00" fill="#479F94" stroke="none" stroke-width="0" rx="1.2"/>
<rect x="415.52" y="814.20" width="18.00" height="18.00" fill="#479F94" stroke="none" stroke-width="0" rx="1.2"/>
<rect x="475.33" y="789.00" width="18.00" height="18.00" fill="#479F94" stroke="none" stroke-width="0" rx="1.2"/>
<rect x="535.15" y="789.00" width="18.00" height="18.00" fill="#479F94" stroke="none" stroke-width="0" rx="1.2"/>
<rect x="594.96" y="789.00" width="18.00" height="18.00" fill="#479F94" stroke="none" stroke-width="0" rx="1.2"/>
<circle cx="185.13" cy="1078.00" r="8.8" fill="#000" />
<circle cx="244.94" cy="1078.00" r="8.8" fill="#000" />
<line x1="304.76" y1="1062.88" x2="304.76" y2="1047.20" stroke="#000" stroke-width="4.4" stroke-linecap="butt" />
<line x1="298.46" y1="1062.88" x2="311.06" y2="1062.88" stroke="#000" stroke-width="4.4" stroke-linecap="round" />
<line x1="298.46" y1="1047.20" x2="311.06" y2="1047.20" stroke="#000" stroke-width="4.4" stroke-linecap="round" />
<circle cx="304.76" cy="1055.04" r="8.8" fill="#000" />
<line x1="364.70" y1="902.16" x2="364.70" y2="843.92" stroke="#000" stroke-width="4.4" stroke-linecap="butt" />
<line x1="358.40" y1="902.16" x2="371.00" y2="902.16" stroke="#000" stroke-width="4.4" stroke-linecap="round" />
<line x1="358.40" y1="843.92" x2="371.00" y2="843.92" stroke="#000" stroke-width="4.4" stroke-linecap="round" />
<circle cx="364.70" cy="873.04" r="8.8" fill="#000" />
<line x1="424.52" y1="809.76" x2="424.52" y2="794.08" stroke="#000" stroke-width="4.4" stroke-linecap="butt" />
<line x1="418.22" y1="809.76" x2="430.82" y2="809.76" stroke="#000" stroke-width="4.4" stroke-linecap="round" />
<line x1="418.22" y1="794.08" x2="430.82" y2="794.08" stroke="#000" stroke-width="4.4" stroke-linecap="round" />
<circle cx="424.52" cy="801.92" r="8.8" fill="#000" />
<circle cx="484.33" cy="798.00" r="8.8" fill="#000" />
<circle cx="544.15" cy="798.00" r="8.8" fill="#000" />
<circle cx="603.96" cy="798.00" r="8.8" fill="#000" />
<line x1="154.00" y1="784.00" x2="154.00" y2="1094.40" stroke="#000" stroke-width="2.8" stroke-linecap="butt" />
<line x1="152.60" y1="1093.00" x2="615.50" y2="1093.00" stroke="#000" stroke-width="2.8" stroke-linecap="butt" />
<line x1="144.50" y1="1078.00" x2="154.00" y2="1078.00" stroke="#000" stroke-width="2.7" stroke-linecap="butt" />
<text x="0.00" y="0.00" font-size="28.2" text-anchor="end" transform="translate(133.40 1089.80) scale(0.8770 1)"  stroke="#000" stroke-width="0.55" stroke-linejoin="round">0</text>
<line x1="144.50" y1="1022.00" x2="154.00" y2="1022.00" stroke="#000" stroke-width="2.7" stroke-linecap="butt" />
<text x="0.00" y="0.00" font-size="28.2" text-anchor="end" transform="translate(134.00 1033.80) scale(0.8770 1)"  stroke="#000" stroke-width="0.55" stroke-linejoin="round">20</text>
<line x1="144.50" y1="966.00" x2="154.00" y2="966.00" stroke="#000" stroke-width="2.7" stroke-linecap="butt" />
<text x="0.00" y="0.00" font-size="28.2" text-anchor="end" transform="translate(134.00 977.80) scale(0.8770 1)"  stroke="#000" stroke-width="0.55" stroke-linejoin="round">40</text>
<line x1="144.50" y1="910.00" x2="154.00" y2="910.00" stroke="#000" stroke-width="2.7" stroke-linecap="butt" />
<text x="0.00" y="0.00" font-size="28.2" text-anchor="end" transform="translate(134.00 921.80) scale(0.8770 1)"  stroke="#000" stroke-width="0.55" stroke-linejoin="round">60</text>
<line x1="144.50" y1="854.00" x2="154.00" y2="854.00" stroke="#000" stroke-width="2.7" stroke-linecap="butt" />
<text x="0.00" y="0.00" font-size="28.2" text-anchor="end" transform="translate(134.00 865.80) scale(0.8770 1)"  stroke="#000" stroke-width="0.55" stroke-linejoin="round">80</text>
<line x1="144.50" y1="798.00" x2="154.00" y2="798.00" stroke="#000" stroke-width="2.7" stroke-linecap="butt" />
<text x="0.00" y="0.00" font-size="28.2" text-anchor="end" transform="translate(136.60 809.80) scale(0.8770 1)"  stroke="#000" stroke-width="0.55" stroke-linejoin="round">100</text>
<line x1="215.60" y1="1093.00" x2="215.60" y2="1103.00" stroke="#000" stroke-width="2.7" stroke-linecap="butt" />
<text x="0.00" y="0.00" font-size="28.2" text-anchor="middle" transform="translate(215.60 1131.50) scale(0.8770 1)"  stroke="#000" stroke-width="0.55" stroke-linejoin="round">-2</text>
<line x1="341.00" y1="1093.00" x2="341.00" y2="1103.00" stroke="#000" stroke-width="2.7" stroke-linecap="butt" />
<text x="0.00" y="0.00" font-size="28.2" text-anchor="middle" transform="translate(341.00 1131.50) scale(0.8770 1)"  stroke="#000" stroke-width="0.55" stroke-linejoin="round">-1</text>
<line x1="466.40" y1="1093.00" x2="466.40" y2="1103.00" stroke="#000" stroke-width="2.7" stroke-linecap="butt" />
<text x="0.00" y="0.00" font-size="28.2" text-anchor="middle" transform="translate(466.40 1131.50) scale(0.8770 1)"  stroke="#000" stroke-width="0.55" stroke-linejoin="round">0</text>
<line x1="591.80" y1="1093.00" x2="591.80" y2="1103.00" stroke="#000" stroke-width="2.7" stroke-linecap="butt" />
<text x="0.00" y="0.00" font-size="28.2" text-anchor="middle" transform="translate(591.80 1131.50) scale(0.8770 1)"  stroke="#000" stroke-width="0.55" stroke-linejoin="round">1</text>
<text x="0.00" y="0.00" font-size="31.9" transform="translate(233.00 1165.00) scale(0.8930 1)"  stroke="#000" stroke-width="0.55" stroke-linejoin="round">Log [Concentration] (<tspan font-style="italic">μ</tspan>M)</text>
<text x="0.00" y="0.00" font-size="31.9" text-anchor="middle" transform="translate(91.00 916.00) rotate(-90) scale(0.8930 1)"  stroke="#000" stroke-width="0.55" stroke-linejoin="round">Inhibition (%)</text>
<line x1="645.50" y1="783.00" x2="678.50" y2="783.00" stroke="#000" stroke-width="2.6" stroke-linecap="round" />
<circle cx="662.00" cy="783.00" r="7.7" fill="#000" />
<text x="0.00" y="0.00" font-size="31.9" transform="translate(698.00 791.60) scale(0.8930 1)"  stroke="#000" stroke-width="0.55" stroke-linejoin="round">GZNL-P36</text>
<text x="0.00" y="0.00" font-size="31.9" transform="translate(698.00 828.00) scale(0.8930 1)"  stroke="#000" stroke-width="0.55" stroke-linejoin="round">EC</text>
<text x="0.00" y="0.00" font-size="19.8" transform="translate(733.00 842.00) scale(0.8930 1)"  stroke="#000" stroke-width="0.4" stroke-linejoin="round">50</text>
<text x="0.00" y="0.00" font-size="31.9" transform="translate(761.50 828.00) scale(0.8930 1)" textLength="258.12" lengthAdjust="spacing"  stroke="#000" stroke-width="0.55" stroke-linejoin="round">= 111.0 ± 9.95 nM</text>
<line x1="645.50" y1="868.40" x2="678.50" y2="868.40" stroke="#479F94" stroke-width="2.6" stroke-linecap="round" />
<rect x="654.25" y="860.65" width="15.50" height="15.50" fill="#479F94" stroke="none" stroke-width="0" rx="1.2"/>
<text x="0.00" y="0.00" font-size="31.9" transform="translate(698.00 875.60) scale(0.8930 1)"  stroke="#000" stroke-width="0.55" stroke-linejoin="round">S-217622</text>
<text x="0.00" y="0.00" font-size="31.9" transform="translate(698.00 909.00) scale(0.8930 1)"  stroke="#000" stroke-width="0.55" stroke-linejoin="round">EC</text>
<text x="0.00" y="0.00" font-size="19.8" transform="translate(733.00 923.00) scale(0.8930 1)"  stroke="#000" stroke-width="0.4" stroke-linejoin="round">50</text>
<text x="0.00" y="0.00" font-size="31.9" transform="translate(759.50 909.00) scale(0.8930 1)" textLength="260.36" lengthAdjust="spacing"  stroke="#000" stroke-width="0.55" stroke-linejoin="round">= 171.9 ± 8.65 nM</text>
</g>
<g id="panel-d">
<text x="1000.30" y="754.00" font-size="53" font-weight="bold" fill="#231F20" >d</text>
<text x="0.00" y="0.00" font-size="31.9" font-weight="bold" font-style="italic" transform="translate(1202.50 753.00) scale(0.8930 1)" textLength="436.73" lengthAdjust="spacing" stroke="#000" stroke-width="0.3">SARS-CoV-2 (Omicron BA.5)</text>
<path d="M1181.6,1072.4 L1185.1,1072.4 L1188.6,1072.4 L1192.1,1072.4 L1195.5,1072.4 L1199.0,1072.4 L1202.5,1072.4 L1206.0,1072.3 L1209.5,1072.3 L1212.9,1072.3 L1216.4,1072.2 L1219.9,1072.2 L1223.4,1072.2 L1226.9,1072.1 L1230.3,1072.0 L1233.8,1071.9 L1237.3,1071.9 L1240.8,1071.7 L1244.2,1071.6 L1247.7,1071.5 L1251.2,1071.3 L1254.7,1071.1 L1258.2,1070.9 L1261.6,1070.6 L1265.1,1070.3 L1268.6,1069.9 L1272.1,1069.5 L1275.6,1069.0 L1279.0,1068.4 L1282.5,1067.7 L1286.0,1066.9 L1289.5,1066.0 L1293.0,1064.9 L1296.4,1063.7 L1299.9,1062.3 L1303.4,1060.6 L1306.9,1058.7 L1310.4,1056.5 L1313.8,1054.0 L1317.3,1051.1 L1320.8,1047.8 L1324.3,1044.1 L1327.8,1039.9 L1331.2,1035.1 L1334.7,1029.8 L1338.2,1023.8 L1341.7,1017.2 L1345.1,1010.0 L1348.6,1002.1 L1352.1,993.6 L1355.6,984.5 L1359.1,974.8 L1362.5,964.7 L1366.0,954.2 L1369.5,943.4 L1373.0,932.6 L1376.5,921.7 L1379.9,910.9 L1383.4,900.4 L1386.9,890.3 L1390.4,880.6 L1393.9,871.5 L1397.3,863.0 L1400.8,855.1 L1404.3,847.9 L1407.8,841.3 L1411.2,835.3 L1414.7,830.0 L1418.2,825.2 L1421.7,821.0 L1425.2,817.2 L1428.6,813.9 L1432.1,811.0 L1435.6,808.5 L1439.1,806.3 L1442.6,804.4 L1446.0,802.8 L1449.5,801.3 L1453.0,800.1 L1456.5,799.0 L1460.0,798.1 L1463.4,797.3 L1466.9,796.6 L1470.4,796.0 L1473.9,795.5 L1477.4,795.1 L1480.8,794.7 L1484.3,794.4 L1487.8,794.1 L1491.3,793.9 L1494.8,793.7 L1498.2,793.5 L1501.7,793.4 L1505.2,793.3 L1508.7,793.1 L1512.1,793.1 L1515.6,793.0 L1519.1,792.9 L1522.6,792.8 L1526.1,792.8 L1529.5,792.8 L1533.0,792.7 L1536.5,792.7 L1540.0,792.7 L1543.5,792.6 L1546.9,792.6 L1550.4,792.6 L1553.9,792.6 L1557.4,792.6 L1560.9,792.6 L1564.3,792.6 L1567.8,792.5 L1571.3,792.5 L1574.8,792.5 L1578.2,792.5 L1581.7,792.5 L1585.2,792.5 L1588.7,792.5 L1592.2,792.5 L1595.6,792.5 L1599.1,792.5" fill="none" stroke="#479F94" stroke-width="2.4" stroke-linejoin="round" stroke-linecap="round"/>
<path d="M1181.6,1072.5 L1185.1,1072.5 L1188.6,1072.5 L1192.1,1072.5 L1195.5,1072.5 L1199.0,1072.5 L1202.5,1072.5 L1206.0,1072.5 L1209.5,1072.5 L1212.9,1072.5 L1216.4,1072.5 L1219.9,1072.5 L1223.4,1072.5 L1226.9,1072.5 L1230.3,1072.5 L1233.8,1072.5 L1237.3,1072.5 L1240.8,1072.5 L1244.2,1072.5 L1247.7,1072.5 L1251.2,1072.5 L1254.7,1072.5 L1258.2,1072.5 L1261.6,1072.5 L1265.1,1072.5 L1268.6,1072.5 L1272.1,1072.5 L1275.6,1072.5 L1279.0,1072.5 L1282.5,1072.5 L1286.0,1072.5 L1289.5,1072.5 L1293.0,1072.4 L1296.4,1072.4 L1299.9,1072.4 L1303.4,1072.4 L1306.9,1072.3 L1310.4,1072.3 L1313.8,1072.2 L1317.3,1072.1 L1320.8,1071.9 L1324.3,1071.7 L1327.8,1071.5 L1331.2,1071.2 L1334.7,1070.8 L1338.2,1070.2 L1341.7,1069.5 L1345.1,1068.5 L1348.6,1067.2 L1352.1,1065.6 L1355.6,1063.4 L1359.1,1060.6 L1362.5,1057.0 L1366.0,1052.3 L1369.5,1046.4 L1373.0,1038.9 L1376.5,1029.8 L1379.9,1018.6 L1383.4,1005.4 L1386.9,990.0 L1390.4,972.9 L1393.9,954.3 L1397.3,934.8 L1400.8,915.3 L1404.3,896.5 L1407.8,878.9 L1411.2,863.1 L1414.7,849.4 L1418.2,837.7 L1421.7,828.1 L1425.2,820.3 L1428.6,814.0 L1432.1,809.1 L1435.6,805.2 L1439.1,802.2 L1442.6,799.9 L1446.0,798.1 L1449.5,796.8 L1453.0,795.7 L1456.5,795.0 L1460.0,794.4 L1463.4,793.9 L1466.9,793.6 L1470.4,793.3 L1473.9,793.1 L1477.4,793.0 L1480.8,792.8 L1484.3,792.8 L1487.8,792.7 L1491.3,792.7 L1494.8,792.6 L1498.2,792.6 L1501.7,792.6 L1505.2,792.5 L1508.7,792.5 L1512.1,792.5 L1515.6,792.5 L1519.1,792.5 L1522.6,792.5 L1526.1,792.5 L1529.5,792.5 L1533.0,792.5 L1536.5,792.5 L1540.0,792.5 L1543.5,792.5 L1546.9,792.5 L1550.4,792.5 L1553.9,792.5 L1557.4,792.5 L1560.9,792.5 L1564.3,792.5 L1567.8,792.5 L1571.3,792.5 L1574.8,792.5 L1578.2,792.5 L1581.7,792.5 L1585.2,792.5 L1588.7,792.5 L1592.2,792.5 L1595.6,792.5 L1599.1,792.5" fill="none" stroke="#000" stroke-width="2.4" stroke-linejoin="round" stroke-linecap="round"/>
<rect x="1172.62" y="1063.50" width="18.00" height="18.00" fill="#479F94" stroke="none" stroke-width="0" rx="1.2"/>
<rect x="1232.25" y="1063.50" width="18.00" height="18.00" fill="#479F94" stroke="none" stroke-width="0" rx="1.2"/>
<rect x="1291.88" y="1055.94" width="18.00" height="18.00" fill="#479F94" stroke="none" stroke-width="0" rx="1.2"/>
<line x1="1360.62" y1="986.54" x2="1360.62" y2="954.06" stroke="#479F94" stroke-width="4.4" stroke-linecap="butt" />
<line x1="1354.33" y1="986.54" x2="1366.92" y2="986.54" stroke="#479F94" stroke-width="4.4" stroke-linecap="round" />
<line x1="1354.33" y1="954.06" x2="1366.92" y2="954.06" stroke="#479F94" stroke-width="4.4" stroke-linecap="round" />
<rect x="1351.62" y="961.30" width="18.00" height="18.00" fill="#479F94" stroke="none" stroke-width="0" rx="1.2"/>
<rect x="1411.25" y="814.86" width="18.00" height="18.00" fill="#479F94" stroke="none" stroke-width="0" rx="1.2"/>
<rect x="1470.88" y="783.50" width="18.00" height="18.00" fill="#479F94" stroke="none" stroke-width="0" rx="1.2"/>
<rect x="1530.50" y="783.50" width="18.00" height="18.00" fill="#479F94" stroke="none" stroke-width="0" rx="1.2"/>
<rect x="1590.12" y="783.50" width="18.00" height="18.00" fill="#479F94" stroke="none" stroke-width="0" rx="1.2"/>
<circle cx="1181.62" cy="1072.50" r="8.8" fill="#000" />
<circle cx="1241.25" cy="1072.50" r="8.8" fill="#000" />
<circle cx="1300.88" cy="1072.50" r="8.8" fill="#000" />
<circle cx="1360.62" cy="1059.06" r="8.8" fill="#000" />
<circle cx="1420.25" cy="835.06" r="8.8" fill="#000" />
<line x1="1479.88" y1="803.42" x2="1479.88" y2="787.18" stroke="#000" stroke-width="4.4" stroke-linecap="butt" />
<line x1="1473.58" y1="803.42" x2="1486.17" y2="803.42" stroke="#000" stroke-width="4.4" stroke-linecap="round" />
<line x1="1473.58" y1="787.18" x2="1486.17" y2="787.18" stroke="#000" stroke-width="4.4" stroke-linecap="round" />
<circle cx="1479.88" cy="795.30" r="8.8" fill="#000" />
<circle cx="1539.50" cy="792.50" r="8.8" fill="#000" />
<circle cx="1599.12" cy="792.50" r="8.8" fill="#000" />
<line x1="1150.00" y1="779.00" x2="1150.00" y2="1087.90" stroke="#000" stroke-width="2.8" stroke-linecap="butt" />
<line x1="1148.60" y1="1086.50" x2="1612.50" y2="1086.50" stroke="#000" stroke-width="2.8" stroke-linecap="butt" />
<line x1="1140.50" y1="1072.50" x2="1150.00" y2="1072.50" stroke="#000" stroke-width="2.7" stroke-linecap="butt" />
<text x="0.00" y="0.00" font-size="28.2" text-anchor="end" transform="translate(1129.40 1084.30) scale(0.8770 1)"  stroke="#000" stroke-width="0.55" stroke-linejoin="round">0</text>
<line x1="1140.50" y1="1016.50" x2="1150.00" y2="1016.50" stroke="#000" stroke-width="2.7" stroke-linecap="butt" />
<text x="0.00" y="0.00" font-size="28.2" text-anchor="end" transform="translate(1130.00 1028.30) scale(0.8770 1)"  stroke="#000" stroke-width="0.55" stroke-linejoin="round">20</text>
<line x1="1140.50" y1="960.50" x2="1150.00" y2="960.50" stroke="#000" stroke-width="2.7" stroke-linecap="butt" />
<text x="0.00" y="0.00" font-size="28.2" text-anchor="end" transform="translate(1130.00 972.30) scale(0.8770 1)"  stroke="#000" stroke-width="0.55" stroke-linejoin="round">40</text>
<line x1="1140.50" y1="904.50" x2="1150.00" y2="904.50" stroke="#000" stroke-width="2.7" stroke-linecap="butt" />
<text x="0.00" y="0.00" font-size="28.2" text-anchor="end" transform="translate(1130.00 916.30) scale(0.8770 1)"  stroke="#000" stroke-width="0.55" stroke-linejoin="round">60</text>
<line x1="1140.50" y1="848.50" x2="1150.00" y2="848.50" stroke="#000" stroke-width="2.7" stroke-linecap="butt" />
<text x="0.00" y="0.00" font-size="28.2" text-anchor="end" transform="translate(1130.00 860.30) scale(0.8770 1)"  stroke="#000" stroke-width="0.55" stroke-linejoin="round">80</text>
<line x1="1140.50" y1="792.50" x2="1150.00" y2="792.50" stroke="#000" stroke-width="2.7" stroke-linecap="butt" />
<text x="0.00" y="0.00" font-size="28.2" text-anchor="end" transform="translate(1132.60 804.30) scale(0.8770 1)"  stroke="#000" stroke-width="0.55" stroke-linejoin="round">100</text>
<line x1="1212.00" y1="1086.50" x2="1212.00" y2="1096.50" stroke="#000" stroke-width="2.7" stroke-linecap="butt" />
<text x="0.00" y="0.00" font-size="28.2" text-anchor="middle" transform="translate(1212.00 1125.00) scale(0.8770 1)"  stroke="#000" stroke-width="0.55" stroke-linejoin="round">-2</text>
<line x1="1337.00" y1="1086.50" x2="1337.00" y2="1096.50" stroke="#000" stroke-width="2.7" stroke-linecap="butt" />
<text x="0.00" y="0.00" font-size="28.2" text-anchor="middle" transform="translate(1337.00 1125.00) scale(0.8770 1)"  stroke="#000" stroke-width="0.55" stroke-linejoin="round">-1</text>
<line x1="1462.00" y1="1086.50" x2="1462.00" y2="1096.50" stroke="#000" stroke-width="2.7" stroke-linecap="butt" />
<text x="0.00" y="0.00" font-size="28.2" text-anchor="middle" transform="translate(1462.00 1125.00) scale(0.8770 1)"  stroke="#000" stroke-width="0.55" stroke-linejoin="round">0</text>
<line x1="1587.00" y1="1086.50" x2="1587.00" y2="1096.50" stroke="#000" stroke-width="2.7" stroke-linecap="butt" />
<text x="0.00" y="0.00" font-size="28.2" text-anchor="middle" transform="translate(1587.00 1125.00) scale(0.8770 1)"  stroke="#000" stroke-width="0.55" stroke-linejoin="round">1</text>
<text x="0.00" y="0.00" font-size="31.9" transform="translate(1237.00 1155.00) scale(0.8930 1)"  stroke="#000" stroke-width="0.55" stroke-linejoin="round">Log [Concentration] (<tspan font-style="italic">μ</tspan>M)</text>
<text x="0.00" y="0.00" font-size="31.9" text-anchor="middle" transform="translate(1087.00 924.00) rotate(-90) scale(0.8930 1)"  stroke="#000" stroke-width="0.55" stroke-linejoin="round">Inhibition (%)</text>
<line x1="1649.50" y1="778.00" x2="1682.50" y2="778.00" stroke="#000" stroke-width="2.6" stroke-linecap="round" />
<circle cx="1666.00" cy="778.00" r="7.7" fill="#000" />
<text x="0.00" y="0.00" font-size="31.9" transform="translate(1704.00 785.60) scale(0.8930 1)"  stroke="#000" stroke-width="0.55" stroke-linejoin="round">GZNL-P36</text>
<text x="0.00" y="0.00" font-size="31.9" transform="translate(1704.00 825.00) scale(0.8930 1)"  stroke="#000" stroke-width="0.55" stroke-linejoin="round">EC</text>
<text x="0.00" y="0.00" font-size="19.8" transform="translate(1739.50 838.40) scale(0.8930 1)"  stroke="#000" stroke-width="0.4" stroke-linejoin="round">50</text>
<text x="0.00" y="0.00" font-size="31.9" transform="translate(1767.50 825.00) scale(0.8930 1)" textLength="242.89" lengthAdjust="spacing"  stroke="#000" stroke-width="0.55" stroke-linejoin="round">= 306.2 ± 9.7 nM</text>
<line x1="1649.50" y1="868.00" x2="1682.50" y2="868.00" stroke="#479F94" stroke-width="2.6" stroke-linecap="round" />
<rect x="1658.25" y="860.25" width="15.50" height="15.50" fill="#479F94" stroke="none" stroke-width="0" rx="1.2"/>
<text x="0.00" y="0.00" font-size="31.9" transform="translate(1704.00 875.00) scale(0.8930 1)"  stroke="#000" stroke-width="0.55" stroke-linejoin="round">S-217622</text>
<text x="0.00" y="0.00" font-size="31.9" transform="translate(1704.00 912.00) scale(0.8930 1)"  stroke="#000" stroke-width="0.55" stroke-linejoin="round">EC</text>
<text x="0.00" y="0.00" font-size="19.8" transform="translate(1739.50 922.40) scale(0.8930 1)"  stroke="#000" stroke-width="0.4" stroke-linejoin="round">50</text>
<text x="0.00" y="0.00" font-size="31.9" transform="translate(1767.10 912.00) scale(0.8930 1)" textLength="260.81" lengthAdjust="spacing"  stroke="#000" stroke-width="0.55" stroke-linejoin="round">= 194.0 ± 11.1 nM</text>
</g>
<g id="panel-e">
<text x="1.00" y="1239.60" font-size="53" font-weight="bold" fill="#231F20" >e</text>
<text x="0.00" y="0.00" font-size="31.9" font-weight="bold" font-style="italic" transform="translate(247.00 1225.00) scale(0.8930 1)" textLength="316.91" lengthAdjust="spacing" stroke="#000" stroke-width="0.3">SARS-CoV-2 (XBB.1)</text>
<path d="M175.6,1549.6 L179.1,1549.6 L182.5,1549.6 L186.0,1549.5 L189.5,1549.5 L193.0,1549.4 L196.5,1549.3 L200.0,1549.2 L203.5,1549.1 L206.9,1549.0 L210.4,1548.9 L213.9,1548.7 L217.4,1548.5 L220.9,1548.3 L224.4,1548.0 L227.8,1547.7 L231.3,1547.3 L234.8,1546.8 L238.3,1546.2 L241.8,1545.6 L245.3,1544.8 L248.8,1543.9 L252.2,1542.9 L255.7,1541.6 L259.2,1540.2 L262.7,1538.5 L266.2,1536.5 L269.7,1534.2 L273.1,1531.5 L276.6,1528.4 L280.1,1524.8 L283.6,1520.6 L287.1,1515.9 L290.6,1510.5 L294.1,1504.5 L297.5,1497.6 L301.0,1490.1 L304.5,1481.7 L308.0,1472.6 L311.5,1462.7 L315.0,1452.2 L318.5,1441.2 L321.9,1429.6 L325.4,1417.8 L328.9,1405.9 L332.4,1394.0 L335.9,1382.3 L339.4,1371.0 L342.8,1360.2 L346.3,1350.0 L349.8,1340.4 L353.3,1331.6 L356.8,1323.6 L360.3,1316.4 L363.8,1309.9 L367.2,1304.2 L370.7,1299.1 L374.2,1294.6 L377.7,1290.7 L381.2,1287.4 L384.7,1284.4 L388.1,1281.9 L391.6,1279.8 L395.1,1277.9 L398.6,1276.3 L402.1,1275.0 L405.6,1273.8 L409.1,1272.8 L412.5,1272.0 L416.0,1271.3 L419.5,1270.7 L423.0,1270.2 L426.5,1269.8 L430.0,1269.4 L433.4,1269.1 L436.9,1268.8 L440.4,1268.6 L443.9,1268.4 L447.4,1268.3 L450.9,1268.1 L454.4,1268.0 L457.8,1267.9 L461.3,1267.8 L464.8,1267.8 L468.3,1267.7 L471.8,1267.7 L475.3,1267.6 L478.7,1267.6 L482.2,1267.6 L485.7,1267.5 L489.2,1267.5 L492.7,1267.5 L496.2,1267.5 L499.7,1267.5 L503.1,1267.5 L506.6,1267.4 L510.1,1267.4 L513.6,1267.4 L517.1,1267.4 L520.6,1267.4 L524.0,1267.4 L527.5,1267.4 L531.0,1267.4 L534.5,1267.4 L538.0,1267.4 L541.5,1267.4 L545.0,1267.4 L548.4,1267.4 L551.9,1267.4 L555.4,1267.4 L558.9,1267.4 L562.4,1267.4 L565.9,1267.4 L569.4,1267.4 L572.8,1267.4 L576.3,1267.4 L579.8,1267.4 L583.3,1267.4 L586.8,1267.4 L590.3,1267.4 L593.7,1267.4" fill="none" stroke="#479F94" stroke-width="2.4" stroke-linejoin="round" stroke-linecap="round"/>
<path d="M175.6,1544.4 L179.1,1543.7 L182.5,1542.9 L186.0,1542.1 L189.5,1541.1 L193.0,1540.1 L196.5,1538.9 L200.0,1537.7 L203.5,1536.3 L206.9,1534.7 L210.4,1533.1 L213.9,1531.3 L217.4,1529.3 L220.9,1527.1 L224.4,1524.7 L227.8,1522.2 L231.3,1519.4 L234.8,1516.4 L238.3,1513.1 L241.8,1509.6 L245.3,1505.8 L248.8,1501.8 L252.2,1497.5 L255.7,1492.8 L259.2,1487.9 L262.7,1482.8 L266.2,1477.3 L269.7,1471.5 L273.1,1465.5 L276.6,1459.3 L280.1,1452.8 L283.6,1446.1 L287.1,1439.2 L290.6,1432.1 L294.1,1425.0 L297.5,1417.7 L301.0,1410.5 L304.5,1403.2 L308.0,1395.9 L311.5,1388.7 L315.0,1381.6 L318.5,1374.7 L321.9,1367.9 L325.4,1361.3 L328.9,1354.9 L332.4,1348.8 L335.9,1342.9 L339.4,1337.3 L342.8,1332.0 L346.3,1327.0 L349.8,1322.3 L353.3,1317.8 L356.8,1313.6 L360.3,1309.7 L363.8,1306.1 L367.2,1302.8 L370.7,1299.6 L374.2,1296.8 L377.7,1294.1 L381.2,1291.7 L384.7,1289.4 L388.1,1287.3 L391.6,1285.4 L395.1,1283.7 L398.6,1282.1 L402.1,1280.7 L405.6,1279.4 L409.1,1278.2 L412.5,1277.1 L416.0,1276.1 L419.5,1275.2 L423.0,1274.4 L426.5,1273.6 L430.0,1273.0 L433.4,1272.3 L436.9,1271.8 L440.4,1271.3 L443.9,1270.8 L447.4,1270.4 L450.9,1270.1 L454.4,1269.7 L457.8,1269.4 L461.3,1269.1 L464.8,1268.9 L468.3,1268.7 L471.8,1268.5 L475.3,1268.3 L478.7,1268.1 L482.2,1268.0 L485.7,1267.8 L489.2,1267.7 L492.7,1267.6 L496.2,1267.5 L499.7,1267.4 L503.1,1267.3 L506.6,1267.2 L510.1,1267.2 L513.6,1267.1 L517.1,1267.1 L520.6,1267.0 L524.0,1267.0 L527.5,1266.9 L531.0,1266.9 L534.5,1266.9 L538.0,1266.8 L541.5,1266.8 L545.0,1266.8 L548.4,1266.8 L551.9,1266.7 L555.4,1266.7 L558.9,1266.7 L562.4,1266.7 L565.9,1266.7 L569.4,1266.7 L572.8,1266.7 L576.3,1266.6 L579.8,1266.6 L583.3,1266.6 L586.8,1266.6 L590.3,1266.6 L593.7,1266.6" fill="none" stroke="#000" stroke-width="2.4" stroke-linejoin="round" stroke-linecap="round"/>
<rect x="166.58" y="1539.40" width="18.00" height="18.00" fill="#479F94" stroke="none" stroke-width="0" rx="1.2"/>
<rect x="226.30" y="1540.81" width="18.00" height="18.00" fill="#479F94" stroke="none" stroke-width="0" rx="1.2"/>
<rect x="286.02" y="1492.19" width="18.00" height="18.00" fill="#479F94" stroke="none" stroke-width="0" rx="1.2"/>
<rect x="345.86" y="1318.53" width="18.00" height="18.00" fill="#479F94" stroke="none" stroke-width="0" rx="1.2"/>
<rect x="405.58" y="1258.40" width="18.00" height="18.00" fill="#479F94" stroke="none" stroke-width="0" rx="1.2"/>
<rect x="465.30" y="1258.40" width="18.00" height="18.00" fill="#479F94" stroke="none" stroke-width="0" rx="1.2"/>
<rect x="525.02" y="1258.40" width="18.00" height="18.00" fill="#479F94" stroke="none" stroke-width="0" rx="1.2"/>
<rect x="584.74" y="1258.40" width="18.00" height="18.00" fill="#479F94" stroke="none" stroke-width="0" rx="1.2"/>
<circle cx="175.58" cy="1548.40" r="8.8" fill="#000" />
<line x1="235.30" y1="1520.02" x2="235.30" y2="1491.92" stroke="#000" stroke-width="4.4" stroke-linecap="butt" />
<line x1="229.00" y1="1520.02" x2="241.60" y2="1520.02" stroke="#000" stroke-width="4.4" stroke-linecap="round" />
<line x1="229.00" y1="1491.92" x2="241.60" y2="1491.92" stroke="#000" stroke-width="4.4" stroke-linecap="round" />
<circle cx="235.30" cy="1505.97" r="8.8" fill="#000" />
<line x1="295.02" y1="1442.32" x2="295.02" y2="1410.01" stroke="#000" stroke-width="4.4" stroke-linecap="butt" />
<line x1="288.72" y1="1442.32" x2="301.32" y2="1442.32" stroke="#000" stroke-width="4.4" stroke-linecap="round" />
<line x1="288.72" y1="1410.01" x2="301.32" y2="1410.01" stroke="#000" stroke-width="4.4" stroke-linecap="round" />
<circle cx="295.02" cy="1426.17" r="8.8" fill="#000" />
<circle cx="354.86" cy="1309.55" r="8.8" fill="#000" />
<circle cx="414.58" cy="1267.40" r="8.8" fill="#000" />
<circle cx="474.30" cy="1267.40" r="8.8" fill="#000" />
<circle cx="534.02" cy="1267.40" r="8.8" fill="#000" />
<circle cx="593.74" cy="1267.40" r="8.8" fill="#000" />
<line x1="144.00" y1="1253.60" x2="144.00" y2="1562.80" stroke="#000" stroke-width="2.8" stroke-linecap="butt" />
<line x1="142.60" y1="1561.40" x2="607.00" y2="1561.40" stroke="#000" stroke-width="2.8" stroke-linecap="butt" />
<line x1="134.50" y1="1548.40" x2="144.00" y2="1548.40" stroke="#000" stroke-width="2.7" stroke-linecap="butt" />
<text x="0.00" y="0.00" font-size="28.2" text-anchor="end" transform="translate(123.40 1560.20) scale(0.8770 1)"  stroke="#000" stroke-width="0.55" stroke-linejoin="round">0</text>
<line x1="134.50" y1="1492.20" x2="144.00" y2="1492.20" stroke="#000" stroke-width="2.7" stroke-linecap="butt" />
<text x="0.00" y="0.00" font-size="28.2" text-anchor="end" transform="translate(124.00 1504.00) scale(0.8770 1)"  stroke="#000" stroke-width="0.55" stroke-linejoin="round">20</text>
<line x1="134.50" y1="1436.00" x2="144.00" y2="1436.00" stroke="#000" stroke-width="2.7" stroke-linecap="butt" />
<text x="0.00" y="0.00" font-size="28.2" text-anchor="end" transform="translate(124.00 1447.80) scale(0.8770 1)"  stroke="#000" stroke-width="0.55" stroke-linejoin="round">40</text>
<line x1="134.50" y1="1379.80" x2="144.00" y2="1379.80" stroke="#000" stroke-width="2.7" stroke-linecap="butt" />
<text x="0.00" y="0.00" font-size="28.2" text-anchor="end" transform="translate(124.00 1391.60) scale(0.8770 1)"  stroke="#000" stroke-width="0.55" stroke-linejoin="round">60</text>
<line x1="134.50" y1="1323.60" x2="144.00" y2="1323.60" stroke="#000" stroke-width="2.7" stroke-linecap="butt" />
<text x="0.00" y="0.00" font-size="28.2" text-anchor="end" transform="translate(124.00 1335.40) scale(0.8770 1)"  stroke="#000" stroke-width="0.55" stroke-linejoin="round">80</text>
<line x1="134.50" y1="1267.40" x2="144.00" y2="1267.40" stroke="#000" stroke-width="2.7" stroke-linecap="butt" />
<text x="0.00" y="0.00" font-size="28.2" text-anchor="end" transform="translate(126.60 1279.20) scale(0.8770 1)"  stroke="#000" stroke-width="0.55" stroke-linejoin="round">100</text>
<line x1="136.00" y1="1407.90" x2="144.00" y2="1407.90" stroke="#000" stroke-width="2.7" stroke-linecap="butt" />
<line x1="206.00" y1="1561.40" x2="206.00" y2="1571.40" stroke="#000" stroke-width="2.7" stroke-linecap="butt" />
<text x="0.00" y="0.00" font-size="28.2" text-anchor="middle" transform="translate(206.00 1599.90) scale(0.8770 1)"  stroke="#000" stroke-width="0.55" stroke-linejoin="round">-2</text>
<line x1="331.20" y1="1561.40" x2="331.20" y2="1571.40" stroke="#000" stroke-width="2.7" stroke-linecap="butt" />
<text x="0.00" y="0.00" font-size="28.2" text-anchor="middle" transform="translate(331.20 1599.90) scale(0.8770 1)"  stroke="#000" stroke-width="0.55" stroke-linejoin="round">-1</text>
<line x1="456.40" y1="1561.40" x2="456.40" y2="1571.40" stroke="#000" stroke-width="2.7" stroke-linecap="butt" />
<text x="0.00" y="0.00" font-size="28.2" text-anchor="middle" transform="translate(456.40 1599.90) scale(0.8770 1)"  stroke="#000" stroke-width="0.55" stroke-linejoin="round">0</text>
<line x1="581.60" y1="1561.40" x2="581.60" y2="1571.40" stroke="#000" stroke-width="2.7" stroke-linecap="butt" />
<text x="0.00" y="0.00" font-size="28.2" text-anchor="middle" transform="translate(581.60 1599.90) scale(0.8770 1)"  stroke="#000" stroke-width="0.55" stroke-linejoin="round">1</text>
<text x="0.00" y="0.00" font-size="31.9" transform="translate(223.00 1632.00) scale(0.8930 1)"  stroke="#000" stroke-width="0.55" stroke-linejoin="round">Log [Concentration] (<tspan font-style="italic">μ</tspan>M)</text>
<text x="0.00" y="0.00" font-size="31.9" text-anchor="middle" transform="translate(82.00 1388.00) rotate(-90) scale(0.8930 1)"  stroke="#000" stroke-width="0.55" stroke-linejoin="round">Inhibition (%)</text>
<line x1="635.50" y1="1252.40" x2="668.50" y2="1252.40" stroke="#000" stroke-width="2.6" stroke-linecap="round" />
<circle cx="652.00" cy="1252.40" r="7.7" fill="#000" />
<text x="0.00" y="0.00" font-size="31.9" transform="translate(688.00 1260.00) scale(0.8930 1)"  stroke="#000" stroke-width="0.55" stroke-linejoin="round">GZNL-P36</text>
<text x="0.00" y="0.00" font-size="31.9" transform="translate(688.00 1295.60) scale(0.8930 1)"  stroke="#000" stroke-width="0.55" stroke-linejoin="round">EC</text>
<text x="0.00" y="0.00" font-size="19.8" transform="translate(720.00 1312.00) scale(0.8930 1)"  stroke="#000" stroke-width="0.4" stroke-linejoin="round">50</text>
<text x="0.00" y="0.00" font-size="31.9" transform="translate(751.50 1295.60) scale(0.8930 1)" textLength="242.89" lengthAdjust="spacing"  stroke="#000" stroke-width="0.55" stroke-linejoin="round">= 58.2 ± 6.70 nM</text>
<line x1="635.50" y1="1337.00" x2="668.50" y2="1337.00" stroke="#479F94" stroke-width="2.6" stroke-linecap="round" />
<rect x="644.25" y="1329.25" width="15.50" height="15.50" fill="#479F94" stroke="none" stroke-width="0" rx="1.2"/>
<text x="0.00" y="0.00" font-size="31.9" transform="translate(688.00 1344.40) scale(0.8930 1)"  stroke="#000" stroke-width="0.55" stroke-linejoin="round">S-217622</text>
<text x="0.00" y="0.00" font-size="31.9" transform="translate(688.00 1382.40) scale(0.8930 1)"  stroke="#000" stroke-width="0.55" stroke-linejoin="round">EC</text>
<text x="0.00" y="0.00" font-size="19.8" transform="translate(722.40 1397.60) scale(0.8930 1)"  stroke="#000" stroke-width="0.4" stroke-linejoin="round">50</text>
<text x="0.00" y="0.00" font-size="31.9" transform="translate(751.50 1382.40) scale(0.8930 1)" textLength="242.89" lengthAdjust="spacing"  stroke="#000" stroke-width="0.55" stroke-linejoin="round">= 94.5 ± 3.41 nM</text>
</g>
<g id="panel-f">
<text x="1000.30" y="1239.30" font-size="52.5" font-weight="bold" fill="#231F20" >f</text>
<path d="M1163.2,1529.7 L1166.4,1529.4 L1169.6,1529.2 L1172.8,1528.9 L1176.0,1528.6 L1179.1,1528.3 L1182.3,1528.0 L1185.5,1527.7 L1188.7,1527.3 L1191.9,1526.9 L1195.1,1526.5 L1198.3,1526.0 L1201.5,1525.5 L1204.7,1525.0 L1207.8,1524.5 L1211.0,1523.9 L1214.2,1523.3 L1217.4,1522.7 L1220.6,1522.0 L1223.8,1521.2 L1227.0,1520.5 L1230.2,1519.6 L1233.4,1518.8 L1236.5,1517.8 L1239.7,1516.8 L1242.9,1515.8 L1246.1,1514.7 L1249.3,1513.5 L1252.5,1512.3 L1255.7,1511.0 L1258.9,1509.6 L1262.1,1508.1 L1265.2,1506.6 L1268.4,1504.9 L1271.6,1503.2 L1274.8,1501.4 L1278.0,1499.5 L1281.2,1497.5 L1284.4,1495.4 L1287.6,1493.1 L1290.8,1490.8 L1293.9,1488.4 L1297.1,1485.9 L1300.3,1483.2 L1303.5,1480.4 L1306.7,1477.6 L1309.9,1474.6 L1313.1,1471.4 L1316.3,1468.2 L1319.5,1464.9 L1322.6,1461.4 L1325.8,1457.8 L1329.0,1454.1 L1332.2,1450.3 L1335.4,1446.5 L1338.6,1442.5 L1341.8,1438.4 L1345.0,1434.2 L1348.2,1430.0 L1351.3,1425.6 L1354.5,1421.3 L1357.7,1416.8 L1360.9,1412.3 L1364.1,1407.8 L1367.3,1403.2 L1370.5,1398.7 L1373.7,1394.1 L1376.9,1389.5 L1380.0,1384.9 L1383.2,1380.4 L1386.4,1375.8 L1389.6,1371.4 L1392.8,1366.9 L1396.0,1362.5 L1399.2,1358.2 L1402.4,1354.0 L1405.6,1349.8 L1408.7,1345.8 L1411.9,1341.8 L1415.1,1337.9 L1418.3,1334.1 L1421.5,1330.5 L1424.7,1326.9 L1427.9,1323.5 L1431.1,1320.1 L1434.3,1316.9 L1437.4,1313.8 L1440.6,1310.8 L1443.8,1308.0 L1447.0,1305.2 L1450.2,1302.6 L1453.4,1300.1 L1456.6,1297.6 L1459.8,1295.3 L1463.0,1293.1 L1466.1,1291.0 L1469.3,1289.0 L1472.5,1287.1 L1475.7,1285.3 L1478.9,1283.6 L1482.1,1282.0 L1485.3,1280.5 L1488.5,1279.0 L1491.6,1277.6 L1494.8,1276.3 L1498.0,1275.1 L1501.2,1273.9 L1504.4,1272.8 L1507.6,1271.8 L1510.8,1270.8 L1514.0,1269.9 L1517.2,1269.0 L1520.3,1268.2 L1523.5,1267.4 L1526.7,1266.7 L1529.9,1266.0 L1533.1,1265.4 L1536.3,1264.8 L1539.5,1264.2 L1542.7,1263.7 L1545.9,1263.2" fill="none" stroke="#479F94" stroke-width="2.5" stroke-linejoin="round" stroke-linecap="round"/>
<path d="M1313.0,1548.7 L1315.4,1548.6 L1317.7,1548.5 L1320.1,1548.4 L1322.5,1548.2 L1324.8,1548.1 L1327.2,1548.0 L1329.5,1547.8 L1331.9,1547.6 L1334.3,1547.4 L1336.6,1547.2 L1339.0,1547.0 L1341.4,1546.8 L1343.7,1546.6 L1346.1,1546.3 L1348.4,1546.0 L1350.8,1545.7 L1353.2,1545.4 L1355.5,1545.0 L1357.9,1544.6 L1360.2,1544.2 L1362.6,1543.8 L1365.0,1543.3 L1367.3,1542.8 L1369.7,1542.2 L1372.1,1541.6 L1374.4,1541.0 L1376.8,1540.3 L1379.1,1539.6 L1381.5,1538.8 L1383.9,1537.9 L1386.2,1537.0 L1388.6,1536.1 L1390.9,1535.0 L1393.3,1533.9 L1395.7,1532.7 L1398.0,1531.5 L1400.4,1530.1 L1402.8,1528.7 L1405.1,1527.1 L1407.5,1525.5 L1409.8,1523.7 L1412.2,1521.9 L1414.6,1519.9 L1416.9,1517.8 L1419.3,1515.6 L1421.6,1513.2 L1424.0,1510.7 L1426.4,1508.1 L1428.7,1505.3 L1431.1,1502.4 L1433.5,1499.3 L1435.8,1496.1 L1438.2,1492.7 L1440.5,1489.1 L1442.9,1485.4 L1445.3,1481.5 L1447.6,1477.5 L1450.0,1473.3 L1452.3,1468.9 L1454.7,1464.4 L1457.1,1459.8 L1459.4,1455.0 L1461.8,1450.1 L1464.2,1445.1 L1466.5,1439.9 L1468.9,1434.7 L1471.2,1429.4 L1473.6,1424.0 L1476.0,1418.5 L1478.3,1413.0 L1480.7,1407.5 L1483.0,1402.0 L1485.4,1396.4 L1487.8,1390.9 L1490.1,1385.4 L1492.5,1380.0 L1494.9,1374.6 L1497.2,1369.3 L1499.6,1364.1 L1501.9,1359.0 L1504.3,1354.0 L1506.7,1349.1 L1509.0,1344.4 L1511.4,1339.8 L1513.7,1335.3 L1516.1,1331.0 L1518.5,1326.9 L1520.8,1322.9 L1523.2,1319.1 L1525.6,1315.4 L1527.9,1311.9 L1530.3,1308.5 L1532.6,1305.3 L1535.0,1302.3 L1537.4,1299.4 L1539.7,1296.7 L1542.1,1294.1 L1544.4,1291.6 L1546.8,1289.3 L1549.2,1287.1 L1551.5,1285.1 L1553.9,1283.1 L1556.3,1281.3 L1558.6,1279.6 L1561.0,1278.0 L1563.3,1276.5 L1565.7,1275.1 L1568.1,1273.7 L1570.4,1272.5 L1572.8,1271.3 L1575.1,1270.3 L1577.5,1269.2 L1579.9,1268.3 L1582.2,1267.4 L1584.6,1266.6 L1587.0,1265.8 L1589.3,1265.1 L1591.7,1264.4 L1594.0,1263.8 L1596.4,1263.2" fill="none" stroke="#FB3B84" stroke-width="2.5" stroke-linejoin="round" stroke-linecap="round"/>
<path d="M1156.80,1541.60 L1163.20,1535.20 L1169.60,1541.60 L1163.20,1548.00 Z" fill="#479F94" stroke="none" stroke-width="0" />
<line x1="1235.40" y1="1530.10" x2="1235.40" y2="1471.78" stroke="#479F94" stroke-width="2.2" stroke-linecap="butt" />
<line x1="1228.15" y1="1530.10" x2="1242.65" y2="1530.10" stroke="#479F94" stroke-width="2.2" stroke-linecap="butt" />
<line x1="1228.15" y1="1471.78" x2="1242.65" y2="1471.78" stroke="#479F94" stroke-width="2.2" stroke-linecap="butt" />
<path d="M1229.00,1500.94 L1235.40,1494.54 L1241.80,1500.94 L1235.40,1507.34 Z" fill="#479F94" stroke="none" stroke-width="0" />
<line x1="1307.60" y1="1494.21" x2="1307.60" y2="1456.64" stroke="#479F94" stroke-width="2.2" stroke-linecap="butt" />
<line x1="1300.35" y1="1494.21" x2="1314.85" y2="1494.21" stroke="#479F94" stroke-width="2.2" stroke-linecap="butt" />
<line x1="1300.35" y1="1456.64" x2="1314.85" y2="1456.64" stroke="#479F94" stroke-width="2.2" stroke-linecap="butt" />
<path d="M1301.20,1475.43 L1307.60,1469.03 L1314.00,1475.43 L1307.60,1481.83 Z" fill="#479F94" stroke="none" stroke-width="0" />
<path d="M1373.40,1390.18 L1379.80,1383.78 L1386.20,1390.18 L1379.80,1396.58 Z" fill="#479F94" stroke="none" stroke-width="0" />
<line x1="1452.00" y1="1306.06" x2="1452.00" y2="1275.22" stroke="#479F94" stroke-width="2.2" stroke-linecap="butt" />
<line x1="1444.75" y1="1306.06" x2="1459.25" y2="1306.06" stroke="#479F94" stroke-width="2.2" stroke-linecap="butt" />
<line x1="1444.75" y1="1275.22" x2="1459.25" y2="1275.22" stroke="#479F94" stroke-width="2.2" stroke-linecap="butt" />
<path d="M1445.60,1290.64 L1452.00,1284.24 L1458.40,1290.64 L1452.00,1297.04 Z" fill="#479F94" stroke="none" stroke-width="0" />
<path d="M1517.80,1269.61 L1524.20,1263.21 L1530.60,1269.61 L1524.20,1276.01 Z" fill="#479F94" stroke="none" stroke-width="0" />
<path d="M1539.46,1263.16 L1545.86,1256.76 L1552.26,1263.16 L1545.86,1269.56 Z" fill="#479F94" stroke="none" stroke-width="0" />
<path d="M1313.01,1537.52 L1320.23,1551.65 L1305.79,1551.65 Z" fill="#FB3B84" stroke="#FB3B84" stroke-width="1.6" stroke-linejoin="round"/>
<path d="M1356.70,1536.96 L1363.92,1551.09 L1349.48,1551.09 Z" fill="#FB3B84" stroke="#FB3B84" stroke-width="1.6" stroke-linejoin="round"/>
<path d="M1399.29,1536.40 L1406.51,1550.53 L1392.07,1550.53 Z" fill="#FB3B84" stroke="#FB3B84" stroke-width="1.6" stroke-linejoin="round"/>
<line x1="1442.97" y1="1486.08" x2="1442.97" y2="1458.04" stroke="#FB3B84" stroke-width="2.2" stroke-linecap="butt" />
<line x1="1435.72" y1="1486.08" x2="1450.22" y2="1486.08" stroke="#FB3B84" stroke-width="2.2" stroke-linecap="butt" />
<line x1="1435.72" y1="1458.04" x2="1450.22" y2="1458.04" stroke="#FB3B84" stroke-width="2.2" stroke-linecap="butt" />
<path d="M1442.97,1464.61 L1450.19,1478.75 L1435.75,1478.75 Z" fill="#FB3B84" stroke="#FB3B84" stroke-width="1.6" stroke-linejoin="round"/>
<line x1="1486.37" y1="1409.25" x2="1486.37" y2="1376.72" stroke="#FB3B84" stroke-width="2.2" stroke-linecap="butt" />
<line x1="1479.12" y1="1409.25" x2="1493.62" y2="1409.25" stroke="#FB3B84" stroke-width="2.2" stroke-linecap="butt" />
<line x1="1479.12" y1="1376.72" x2="1493.62" y2="1376.72" stroke="#FB3B84" stroke-width="2.2" stroke-linecap="butt" />
<path d="M1486.37,1385.54 L1493.59,1399.68 L1479.15,1399.68 Z" fill="#FB3B84" stroke="#FB3B84" stroke-width="1.6" stroke-linejoin="round"/>
<line x1="1531.42" y1="1322.05" x2="1531.42" y2="1305.22" stroke="#FB3B84" stroke-width="2.2" stroke-linecap="butt" />
<line x1="1524.17" y1="1322.05" x2="1538.67" y2="1322.05" stroke="#FB3B84" stroke-width="2.2" stroke-linecap="butt" />
<line x1="1524.17" y1="1305.22" x2="1538.67" y2="1305.22" stroke="#FB3B84" stroke-width="2.2" stroke-linecap="butt" />
<path d="M1531.42,1306.19 L1538.64,1320.32 L1524.20,1320.32 Z" fill="#FB3B84" stroke="#FB3B84" stroke-width="1.6" stroke-linejoin="round"/>
<line x1="1574.74" y1="1273.82" x2="1574.74" y2="1257.55" stroke="#FB3B84" stroke-width="2.2" stroke-linecap="butt" />
<line x1="1567.49" y1="1273.82" x2="1581.99" y2="1273.82" stroke="#FB3B84" stroke-width="2.2" stroke-linecap="butt" />
<line x1="1567.49" y1="1257.55" x2="1581.99" y2="1257.55" stroke="#FB3B84" stroke-width="2.2" stroke-linecap="butt" />
<path d="M1574.74,1258.24 L1581.96,1272.37 L1567.52,1272.37 Z" fill="#FB3B84" stroke="#FB3B84" stroke-width="1.6" stroke-linejoin="round"/>
<path d="M1596.40,1256.56 L1603.62,1270.69 L1589.18,1270.69 Z" fill="#FB3B84" stroke="#FB3B84" stroke-width="1.6" stroke-linejoin="round"/>
<path d="M1313.0,1541.6 L1313.7,1541.6 L1314.4,1541.6 L1315.1,1541.6 L1315.8,1541.6 L1316.6,1541.6 L1317.3,1541.6 L1318.0,1541.6 L1318.7,1541.6 L1319.4,1541.6 L1320.1,1541.6 L1320.8,1541.6 L1321.5,1541.6 L1322.2,1541.6 L1322.9,1541.6 L1323.6,1541.6 L1324.4,1541.6 L1325.1,1541.6 L1325.8,1541.6 L1326.5,1541.6 L1327.2,1541.6 L1327.9,1541.6 L1328.6,1541.6 L1329.3,1541.6 L1330.0,1541.6 L1330.7,1541.6 L1331.4,1541.6 L1332.1,1541.6 L1332.9,1541.6 L1333.6,1541.6 L1334.3,1541.6 L1335.0,1541.6 L1335.7,1541.6 L1336.4,1541.6 L1337.1,1541.6 L1337.8,1541.6 L1338.5,1541.6 L1339.2,1541.6 L1339.9,1541.6 L1340.6,1541.6 L1341.4,1541.6 L1342.1,1541.6 L1342.8,1541.6 L1343.5,1541.6 L1344.2,1541.6 L1344.9,1541.6 L1345.6,1541.6 L1346.3,1541.6 L1347.0,1541.6 L1347.7,1541.6 L1348.4,1541.6 L1349.1,1541.6 L1349.9,1541.6 L1350.6,1541.6 L1351.3,1541.6 L1352.0,1541.6 L1352.7,1541.6 L1353.4,1541.6 L1354.1,1541.6 L1354.8,1541.6 L1355.5,1541.6 L1356.2,1541.6 L1356.9,1541.6 L1357.6,1541.6 L1358.4,1541.6 L1359.1,1541.6 L1359.8,1541.6 L1360.5,1541.6 L1361.2,1541.6 L1361.9,1541.6 L1362.6,1541.6 L1363.3,1541.6 L1364.0,1541.6 L1364.7,1541.6 L1365.4,1541.6 L1366.1,1541.6 L1366.9,1541.6 L1367.6,1541.6 L1368.3,1541.6 L1369.0,1541.6 L1369.7,1541.6 L1370.4,1541.6 L1371.1,1541.6 L1371.8,1541.6 L1372.5,1541.6 L1373.2,1541.6 L1373.9,1541.6 L1374.7,1541.6 L1375.4,1541.6 L1376.1,1541.6 L1376.8,1541.6 L1377.5,1541.6 L1378.2,1541.6 L1378.9,1541.6 L1379.6,1541.6 L1380.3,1541.6 L1381.0,1541.6 L1381.7,1541.6 L1382.4,1541.6 L1383.2,1541.6 L1383.9,1541.6 L1384.6,1541.6 L1385.3,1541.6 L1386.0,1541.6 L1386.7,1541.6 L1387.4,1541.6 L1388.1,1541.6 L1388.8,1541.6 L1389.5,1541.6 L1390.2,1541.6 L1390.9,1541.6 L1391.7,1541.6 L1392.4,1541.6 L1393.1,1541.6 L1393.8,1541.6 L1394.5,1541.6 L1395.2,1541.6 L1395.9,1541.6 L1396.6,1541.6 L1397.3,1541.6 L1398.0,1541.6 L1398.7,1541.6 L1399.4,1541.6 L1400.2,1541.6 L1400.9,1541.6 L1401.6,1541.6 L1402.3,1541.6 L1403.0,1541.6 L1403.7,1541.6 L1404.4,1541.6 L1405.1,1541.6 L1405.8,1541.6 L1406.5,1541.6 L1407.2,1541.6 L1407.9,1541.6 L1408.7,1541.6 L1409.4,1541.6 L1410.1,1541.6 L1410.8,1541.6 L1411.5,1541.6 L1412.2,1541.6 L1412.9,1541.6 L1413.6,1541.6 L1414.3,1541.6 L1415.0,1541.6 L1415.7,1541.6 L1416.5,1541.6 L1417.2,1541.6 L1417.9,1541.6 L1418.6,1541.6 L1419.3,1541.6 L1420.0,1541.6 L1420.7,1541.6 L1421.4,1541.6 L1422.1,1541.6 L1422.8,1541.6 L1423.5,1541.6 L1424.2,1541.6 L1425.0,1541.6 L1425.7,1541.6 L1426.4,1541.6 L1427.1,1541.6 L1427.8,1541.6 L1428.5,1541.6 L1429.2,1541.6 L1429.9,1541.6 L1430.6,1541.6 L1431.3,1541.6 L1432.0,1541.6 L1432.7,1541.6 L1433.5,1541.6 L1434.2,1541.6 L1434.9,1541.6 L1435.6,1541.6 L1436.3,1541.6 L1437.0,1541.6 L1437.7,1541.6 L1438.4,1541.6 L1439.1,1541.6 L1439.8,1541.6 L1440.5,1541.6 L1441.2,1541.6 L1442.0,1541.6 L1442.7,1541.6 L1443.4,1541.6 L1444.1,1541.6 L1444.8,1541.6 L1445.5,1541.6 L1446.2,1541.6 L1446.9,1541.6 L1447.6,1541.6 L1448.3,1541.6 L1449.0,1541.6 L1449.7,1541.6 L1450.5,1541.6 L1451.2,1541.6 L1451.9,1541.6 L1452.6,1541.6 L1453.3,1541.6 L1454.0,1541.6 L1454.7,1541.6 L1455.4,1541.6 L1456.1,1541.6 L1456.8,1541.6 L1457.5,1541.6 L1458.2,1541.6 L1459.0,1541.6 L1459.7,1541.6 L1460.4,1541.6 L1461.1,1541.6 L1461.8,1541.6 L1462.5,1541.6 L1463.2,1541.6 L1463.9,1541.6 L1464.6,1541.6 L1465.3,1541.6 L1466.0,1541.6 L1466.8,1541.6 L1467.5,1541.6 L1468.2,1541.6 L1468.9,1541.6 L1469.6,1541.6 L1470.3,1541.6 L1471.0,1541.6 L1471.7,1541.6 L1472.4,1541.6 L1473.1,1541.6 L1473.8,1541.6 L1474.5,1541.6 L1475.3,1541.6 L1476.0,1541.6 L1476.7,1541.6 L1477.4,1541.6 L1478.1,1541.6 L1478.8,1541.6 L1479.5,1541.6 L1480.2,1541.6 L1480.9,1541.6 L1481.6,1541.6 L1482.3,1541.6 L1483.0,1541.6 L1483.8,1541.6 L1484.5,1541.6 L1485.2,1541.6 L1485.9,1541.6 L1486.6,1541.6 L1487.3,1541.6 L1488.0,1541.6 L1488.7,1541.6 L1489.4,1541.6 L1490.1,1541.6 L1490.8,1541.6 L1491.5,1541.6 L1492.3,1541.6 L1493.0,1541.6 L1493.7,1541.6 L1494.4,1541.6 L1495.1,1541.6 L1495.8,1541.6 L1496.5,1541.6 L1497.2,1541.6 L1497.9,1541.6 L1498.6,1541.6 L1499.3,1541.6 L1500.0,1541.6 L1500.8,1541.6 L1501.5,1541.6 L1502.2,1541.6 L1502.9,1541.6 L1503.6,1541.6 L1504.3,1541.6 L1505.0,1541.6 L1505.7,1541.6 L1506.4,1541.6 L1507.1,1541.6 L1507.8,1541.6 L1508.6,1541.6 L1509.3,1541.6 L1510.0,1541.6 L1510.7,1541.6 L1511.4,1541.6 L1512.1,1541.6 L1512.8,1541.6 L1513.5,1541.6 L1514.2,1541.6 L1514.9,1541.6 L1515.6,1541.6 L1516.3,1541.6 L1517.1,1541.6 L1517.8,1541.6 L1518.5,1541.6 L1519.2,1541.6 L1519.9,1541.6 L1520.6,1541.6 L1521.3,1541.6 L1522.0,1541.6 L1522.7,1541.6 L1523.4,1541.6 L1524.1,1541.6 L1524.8,1541.6 L1525.6,1541.6 L1526.3,1541.6 L1527.0,1541.6 L1527.7,1541.6 L1528.4,1541.6 L1529.1,1541.6 L1529.8,1541.6 L1530.5,1541.6 L1531.2,1541.6 L1531.9,1541.6 L1532.6,1541.6 L1533.3,1541.6 L1534.1,1541.6 L1534.8,1541.6 L1535.5,1541.6 L1536.2,1541.6 L1536.9,1541.6 L1537.6,1541.6 L1538.3,1541.6 L1539.0,1541.6 L1539.7,1541.6 L1540.4,1541.6 L1541.1,1541.6 L1541.8,1541.6 L1542.6,1541.6 L1543.3,1541.6 L1544.0,1541.6 L1544.7,1541.6 L1545.4,1541.6 L1546.1,1541.6 L1546.8,1541.6 L1547.5,1541.6 L1548.2,1541.6 L1548.9,1541.6 L1549.6,1541.6 L1550.3,1541.6 L1551.1,1541.6 L1551.8,1541.6 L1552.5,1541.6 L1553.2,1541.6 L1553.9,1541.6 L1554.6,1541.6 L1555.3,1541.6 L1556.0,1541.6 L1556.7,1541.5 L1557.4,1541.5 L1558.1,1541.5 L1558.9,1541.4 L1559.6,1541.3 L1560.3,1541.2 L1561.0,1541.0 L1561.7,1540.7 L1562.4,1540.3 L1563.1,1539.7 L1563.8,1538.8 L1564.5,1537.5 L1565.2,1535.6 L1565.9,1532.9 L1566.6,1529.0 L1567.4,1523.5 L1568.1,1515.8 L1568.8,1505.3 L1569.5,1491.4 L1570.2,1473.5 L1570.9,1451.9 L1571.6,1427.0 L1572.3,1400.4 L1573.0,1373.8 L1573.7,1349.2 L1574.4,1327.8 L1575.1,1310.3 L1575.9,1296.6 L1576.6,1286.3 L1577.3,1278.8 L1578.0,1273.4 L1578.7,1269.6 L1579.4,1267.0 L1580.1,1265.2 L1580.8,1263.9 L1581.5,1263.1 L1582.2,1262.5 L1582.9,1262.1 L1583.6,1261.8 L1584.4,1261.6 L1585.1,1261.5 L1585.8,1261.4 L1586.5,1261.3 L1587.2,1261.3 L1587.9,1261.3 L1588.6,1261.2 L1589.3,1261.2 L1590.0,1261.2 L1590.7,1261.2 L1591.4,1261.2 L1592.1,1261.2 L1592.9,1261.2 L1593.6,1261.2 L1594.3,1261.2 L1595.0,1261.2 L1595.7,1261.2 L1596.4,1261.2" fill="none" stroke="#000" stroke-width="2.5" stroke-linejoin="round" stroke-linecap="round"/>
<circle cx="1313.01" cy="1541.60" r="8.8" fill="#000" />
<circle cx="1356.70" cy="1541.60" r="8.8" fill="#000" />
<circle cx="1399.29" cy="1541.60" r="8.8" fill="#000" />
<circle cx="1442.97" cy="1541.60" r="8.8" fill="#000" />
<circle cx="1486.37" cy="1541.60" r="8.8" fill="#000" />
<circle cx="1531.42" cy="1541.60" r="8.8" fill="#000" />
<line x1="1574.74" y1="1334.10" x2="1574.74" y2="1306.06" stroke="#000" stroke-width="4.4" stroke-linecap="butt" />
<line x1="1568.44" y1="1334.10" x2="1581.04" y2="1334.10" stroke="#000" stroke-width="4.4" stroke-linecap="round" />
<line x1="1568.44" y1="1306.06" x2="1581.04" y2="1306.06" stroke="#000" stroke-width="4.4" stroke-linecap="round" />
<circle cx="1574.74" cy="1320.08" r="8.8" fill="#000" />
<circle cx="1596.40" cy="1261.20" r="8.8" fill="#000" />
<line x1="1149.60" y1="1247.40" x2="1149.60" y2="1556.00" stroke="#000" stroke-width="2.8" stroke-linecap="butt" />
<line x1="1148.20" y1="1554.60" x2="1611.00" y2="1554.60" stroke="#000" stroke-width="2.8" stroke-linecap="butt" />
<line x1="1140.10" y1="1541.60" x2="1149.60" y2="1541.60" stroke="#000" stroke-width="2.7" stroke-linecap="butt" />
<text x="0.00" y="0.00" font-size="28.2" text-anchor="end" transform="translate(1129.00 1553.40) scale(0.8770 1)"  stroke="#000" stroke-width="0.55" stroke-linejoin="round">0</text>
<line x1="1140.10" y1="1485.52" x2="1149.60" y2="1485.52" stroke="#000" stroke-width="2.7" stroke-linecap="butt" />
<text x="0.00" y="0.00" font-size="28.2" text-anchor="end" transform="translate(1129.60 1497.32) scale(0.8770 1)"  stroke="#000" stroke-width="0.55" stroke-linejoin="round">20</text>
<line x1="1140.10" y1="1429.44" x2="1149.60" y2="1429.44" stroke="#000" stroke-width="2.7" stroke-linecap="butt" />
<text x="0.00" y="0.00" font-size="28.2" text-anchor="end" transform="translate(1129.60 1441.24) scale(0.8770 1)"  stroke="#000" stroke-width="0.55" stroke-linejoin="round">40</text>
<line x1="1140.10" y1="1373.36" x2="1149.60" y2="1373.36" stroke="#000" stroke-width="2.7" stroke-linecap="butt" />
<text x="0.00" y="0.00" font-size="28.2" text-anchor="end" transform="translate(1129.60 1385.16) scale(0.8770 1)"  stroke="#000" stroke-width="0.55" stroke-linejoin="round">60</text>
<line x1="1140.10" y1="1317.28" x2="1149.60" y2="1317.28" stroke="#000" stroke-width="2.7" stroke-linecap="butt" />
<text x="0.00" y="0.00" font-size="28.2" text-anchor="end" transform="translate(1129.60 1329.08) scale(0.8770 1)"  stroke="#000" stroke-width="0.55" stroke-linejoin="round">80</text>
<line x1="1140.10" y1="1261.20" x2="1149.60" y2="1261.20" stroke="#000" stroke-width="2.7" stroke-linecap="butt" />
<text x="0.00" y="0.00" font-size="28.2" text-anchor="end" transform="translate(1132.20 1273.00) scale(0.8770 1)"  stroke="#000" stroke-width="0.55" stroke-linejoin="round">100</text>
<line x1="1163.20" y1="1554.60" x2="1163.20" y2="1564.60" stroke="#000" stroke-width="2.7" stroke-linecap="butt" />
<text x="0.00" y="0.00" font-size="28.2" text-anchor="middle" transform="translate(1163.20 1592.00) scale(0.8770 1)"  stroke="#000" stroke-width="0.55" stroke-linejoin="round">-4</text>
<line x1="1307.60" y1="1554.60" x2="1307.60" y2="1564.60" stroke="#000" stroke-width="2.7" stroke-linecap="butt" />
<text x="0.00" y="0.00" font-size="28.2" text-anchor="middle" transform="translate(1307.60 1592.00) scale(0.8770 1)"  stroke="#000" stroke-width="0.55" stroke-linejoin="round">-2</text>
<line x1="1452.00" y1="1554.60" x2="1452.00" y2="1564.60" stroke="#000" stroke-width="2.7" stroke-linecap="butt" />
<text x="0.00" y="0.00" font-size="28.2" text-anchor="middle" transform="translate(1452.00 1592.00) scale(0.8770 1)"  stroke="#000" stroke-width="0.55" stroke-linejoin="round">0</text>
<line x1="1596.40" y1="1554.60" x2="1596.40" y2="1564.60" stroke="#000" stroke-width="2.7" stroke-linecap="butt" />
<text x="0.00" y="0.00" font-size="28.2" text-anchor="middle" transform="translate(1596.40 1592.00) scale(0.8770 1)"  stroke="#000" stroke-width="0.55" stroke-linejoin="round">2</text>
<text x="0.00" y="0.00" font-size="31.9" transform="translate(1271.00 1622.00) scale(0.8930 1)"  stroke="#000" stroke-width="0.55" stroke-linejoin="round">log[GZNL-P36] (<tspan font-style="italic">μ</tspan>M)</text>
<text x="0.00" y="0.00" font-size="31.9" text-anchor="middle" transform="translate(1080.00 1381.00) rotate(-90) scale(0.8930 1)"  stroke="#000" stroke-width="0.55" stroke-linejoin="round">Inhibition (%)</text>
<line x1="1644.00" y1="1242.40" x2="1677.00" y2="1242.40" stroke="#000" stroke-width="2.6" stroke-linecap="round" />
<circle cx="1660.50" cy="1242.40" r="8.7" fill="#000" />
<text x="0.00" y="0.00" font-size="31.9" font-weight="bold" font-style="italic" transform="translate(1697.40 1250.00) scale(0.8930 1)" textLength="180.29" lengthAdjust="spacing" stroke="#000" stroke-width="0.3">HCoV-OC43</text>
<text x="0.00" y="0.00" font-size="31.9" transform="translate(1697.40 1281.40) scale(0.8930 1)"  stroke="#000" stroke-width="0.55" stroke-linejoin="round">EC</text>
<text x="0.00" y="0.00" font-size="19.8" transform="translate(1731.00 1294.00) scale(0.8930 1)"  stroke="#000" stroke-width="0.4" stroke-linejoin="round">50</text>
<text x="0.00" y="0.00" font-size="31.9" transform="translate(1760.10 1281.40) scale(0.8930 1)" textLength="146.58" lengthAdjust="spacing"  stroke="#000" stroke-width="0.55" stroke-linejoin="round">= 46.3 <tspan font-style="italic">μ</tspan>M</text>
<line x1="1646.00" y1="1323.60" x2="1679.00" y2="1323.60" stroke="#FB3B84" stroke-width="2.6" stroke-linecap="round" />
<path d="M1662.50,1316.15 L1669.72,1330.29 L1655.28,1330.29 Z" fill="#FB3B84" stroke="#FB3B84" stroke-width="1.6" stroke-linejoin="round"/>
<text x="0.00" y="0.00" font-size="31.9" font-weight="bold" font-style="italic" transform="translate(1699.00 1331.60) scale(0.8930 1)" textLength="172.45" lengthAdjust="spacing" stroke="#000" stroke-width="0.3">HCoV-229E</text>
<text x="0.00" y="0.00" font-size="31.9" transform="translate(1699.00 1364.00) scale(0.8930 1)"  stroke="#000" stroke-width="0.55" stroke-linejoin="round">EC</text>
<text x="0.00" y="0.00" font-size="19.8" transform="translate(1731.00 1381.00) scale(0.8930 1)"  stroke="#000" stroke-width="0.4" stroke-linejoin="round">50</text>
<text x="0.00" y="0.00" font-size="31.9" transform="translate(1761.50 1364.00) scale(0.8930 1)" textLength="146.14" lengthAdjust="spacing"  stroke="#000" stroke-width="0.55" stroke-linejoin="round">= 2.66 <tspan font-style="italic">μ</tspan>M</text>
<line x1="1644.00" y1="1408.00" x2="1677.00" y2="1408.00" stroke="#479F94" stroke-width="2.6" stroke-linecap="round" />
<path d="M1654.10,1408.00 L1660.50,1401.60 L1666.90,1408.00 L1660.50,1414.40 Z" fill="#479F94" stroke="none" stroke-width="0" />
<text x="0.00" y="0.00" font-size="31.9" font-weight="bold" font-style="italic" transform="translate(1697.40 1415.60) scale(0.8930 1)" textLength="173.57" lengthAdjust="spacing" stroke="#000" stroke-width="0.3">HCoV-NL63</text>
<text x="0.00" y="0.00" font-size="31.9" transform="translate(1697.40 1447.00) scale(0.8930 1)"  stroke="#000" stroke-width="0.55" stroke-linejoin="round">EC</text>
<text x="0.00" y="0.00" font-size="19.8" transform="translate(1731.00 1462.40) scale(0.8930 1)"  stroke="#000" stroke-width="0.4" stroke-linejoin="round">50</text>
<text x="0.00" y="0.00" font-size="31.9" transform="translate(1760.10 1447.00) scale(0.8930 1)" textLength="145.46" lengthAdjust="spacing"  stroke="#000" stroke-width="0.55" stroke-linejoin="round">= 81.6 nM</text>
</g>
</svg>
</body></html>
